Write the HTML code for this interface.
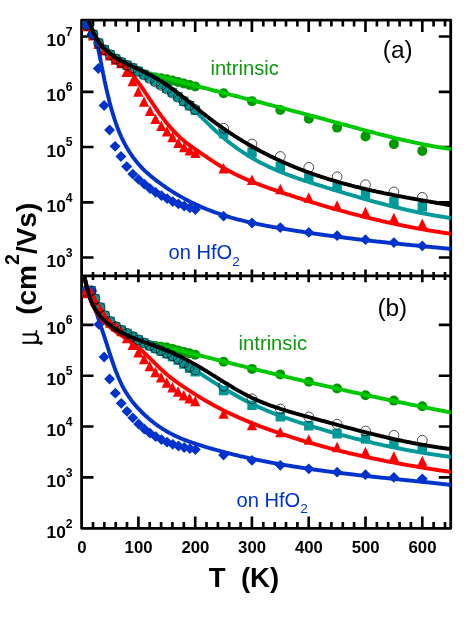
<!DOCTYPE html>
<html><head><meta charset="utf-8"><title>mobility</title>
<style>html,body{margin:0;padding:0;background:#fff;}body{width:476px;height:623px;position:relative;overflow:hidden;font-family:"Liberation Sans",sans-serif;}</style>
</head><body>
<svg width="476" height="623" viewBox="0 0 476 623" style="position:absolute;left:0;top:0;will-change:transform"><defs><clipPath id="ca"><rect x="82.39999999999999" y="20.7" width="368.40000000000003" height="255.25"/></clipPath><clipPath id="cb"><rect x="82.39999999999999" y="275.95" width="368.40000000000003" height="252.34999999999997"/></clipPath></defs><path d="M81.6,528.3 L81.6,20.2 L450.7,20.2 L450.7,528.3 Z M81.6,275.95 L450.7,275.95" fill="none" stroke="#000" stroke-width="2.8" stroke-linejoin="round"/><path d="M93.0,20.2 v6.3 M93.0,528.3 v-6.3 M93.0,271.9 v8.1 M104.3,20.2 v6.3 M104.3,528.3 v-6.3 M104.3,271.9 v8.1 M115.7,20.2 v6.3 M115.7,528.3 v-6.3 M115.7,271.9 v8.1 M127.0,20.2 v6.3 M127.0,528.3 v-6.3 M127.0,271.9 v8.1 M138.4,20.2 v11.7 M138.4,528.3 v-11.7 M138.4,269.55 v12.8 M149.7,20.2 v6.3 M149.7,528.3 v-6.3 M149.7,271.9 v8.1 M161.1,20.2 v6.3 M161.1,528.3 v-6.3 M161.1,271.9 v8.1 M172.4,20.2 v6.3 M172.4,528.3 v-6.3 M172.4,271.9 v8.1 M183.8,20.2 v6.3 M183.8,528.3 v-6.3 M183.8,271.9 v8.1 M195.2,20.2 v11.7 M195.2,528.3 v-11.7 M195.2,269.55 v12.8 M206.5,20.2 v6.3 M206.5,528.3 v-6.3 M206.5,271.9 v8.1 M217.9,20.2 v6.3 M217.9,528.3 v-6.3 M217.9,271.9 v8.1 M229.2,20.2 v6.3 M229.2,528.3 v-6.3 M229.2,271.9 v8.1 M240.6,20.2 v6.3 M240.6,528.3 v-6.3 M240.6,271.9 v8.1 M251.9,20.2 v11.7 M251.9,528.3 v-11.7 M251.9,269.55 v12.8 M263.3,20.2 v6.3 M263.3,528.3 v-6.3 M263.3,271.9 v8.1 M274.7,20.2 v6.3 M274.7,528.3 v-6.3 M274.7,271.9 v8.1 M286.0,20.2 v6.3 M286.0,528.3 v-6.3 M286.0,271.9 v8.1 M297.4,20.2 v6.3 M297.4,528.3 v-6.3 M297.4,271.9 v8.1 M308.7,20.2 v11.7 M308.7,528.3 v-11.7 M308.7,269.55 v12.8 M320.1,20.2 v6.3 M320.1,528.3 v-6.3 M320.1,271.9 v8.1 M331.4,20.2 v6.3 M331.4,528.3 v-6.3 M331.4,271.9 v8.1 M342.8,20.2 v6.3 M342.8,528.3 v-6.3 M342.8,271.9 v8.1 M354.1,20.2 v6.3 M354.1,528.3 v-6.3 M354.1,271.9 v8.1 M365.5,20.2 v11.7 M365.5,528.3 v-11.7 M365.5,269.55 v12.8 M376.9,20.2 v6.3 M376.9,528.3 v-6.3 M376.9,271.9 v8.1 M388.2,20.2 v6.3 M388.2,528.3 v-6.3 M388.2,271.9 v8.1 M399.6,20.2 v6.3 M399.6,528.3 v-6.3 M399.6,271.9 v8.1 M410.9,20.2 v6.3 M410.9,528.3 v-6.3 M410.9,271.9 v8.1 M422.3,20.2 v11.7 M422.3,528.3 v-11.7 M422.3,269.55 v12.8 M433.6,20.2 v6.3 M433.6,528.3 v-6.3 M433.6,271.9 v8.1 M445.0,20.2 v6.3 M445.0,528.3 v-6.3 M445.0,271.9 v8.1 M81.6,36.5 h11.9 M450.7,36.5 h-11.9 M81.6,91.8 h11.9 M450.7,91.8 h-11.9 M81.6,147.0 h11.9 M450.7,147.0 h-11.9 M81.6,202.3 h11.9 M450.7,202.3 h-11.9 M81.6,257.5 h11.9 M450.7,257.5 h-11.9 M81.6,324.8 h11.9 M450.7,324.8 h-11.9 M81.6,375.7 h11.9 M450.7,375.7 h-11.9 M81.6,426.5 h11.9 M450.7,426.5 h-11.9 M81.6,477.4 h11.9 M450.7,477.4 h-11.9" fill="none" stroke="#000" stroke-width="2.65"/><g clip-path="url(#ca)"><circle cx="155.4" cy="77.6" r="5" fill="#009a00"/><circle cx="161.1" cy="78.2" r="5" fill="#009a00"/><circle cx="166.8" cy="79.3" r="5" fill="#009a00"/><circle cx="172.4" cy="80.6" r="5" fill="#009a00"/><circle cx="178.1" cy="82.0" r="5" fill="#009a00"/><circle cx="183.8" cy="83.5" r="5" fill="#009a00"/><circle cx="189.5" cy="85.0" r="5" fill="#009a00"/><circle cx="195.2" cy="86.4" r="5" fill="#009a00"/><circle cx="223.6" cy="93.2" r="5" fill="#009a00"/><circle cx="252.0" cy="101.2" r="5" fill="#009a00"/><circle cx="280.3" cy="110.0" r="5" fill="#009a00"/><circle cx="308.8" cy="118.8" r="5" fill="#009a00"/><circle cx="337.1" cy="127.6" r="5" fill="#009a00"/><circle cx="365.5" cy="136.4" r="5" fill="#009a00"/><circle cx="393.9" cy="144.1" r="5" fill="#009a00"/><circle cx="422.3" cy="150.9" r="5" fill="#009a00"/><path d="M85.5,10.3 L85.7,11.2 L86.0,12.1 L86.2,12.9 L86.5,13.8 L86.7,14.7 L87.0,15.5 L87.2,16.3 L87.5,17.1 L87.7,17.9 L88.0,18.7 L88.2,19.4 L88.5,20.2 L88.7,20.9 L89.0,21.6 L89.2,22.4 L89.5,23.1 L89.7,23.7 L90.0,24.4 L90.2,25.1 L90.5,25.7 L90.7,26.4 L91.0,27.0 L91.2,27.6 L91.5,28.2 L91.7,28.8 L92.0,29.4 L92.2,29.9 L92.5,30.5 L92.7,31.1 L93.0,31.6 L93.2,32.1 L93.4,32.6 L93.7,33.2 L93.9,33.7 L94.2,34.2 L94.4,34.6 L94.7,35.1 L94.9,35.6 L95.2,36.0 L95.4,36.5 L95.7,36.9 L95.9,37.4 L96.2,37.8 L96.4,38.2 L96.7,38.6 L96.9,39.0 L97.2,39.4 L97.4,39.8 L97.7,40.2 L97.9,40.6 L98.2,40.9 L98.4,41.3 L98.7,41.6 L98.9,42.0 L99.2,42.3 L99.4,42.7 L99.7,43.0 L99.9,43.3 L100.2,43.7 L100.4,44.0 L100.7,44.3 L100.9,44.6 L101.2,44.9 L101.4,45.2 L101.6,45.5 L101.9,45.8 L102.1,46.0 L102.4,46.3 L102.6,46.6 L102.9,46.9 L103.1,47.1 L103.4,47.4 L103.6,47.6 L103.9,47.9 L104.1,48.2 L104.4,48.4 L104.6,48.7 L104.9,48.9 L105.1,49.1 L105.4,49.4 L105.6,49.6 L105.9,49.9 L106.1,50.1 L106.4,50.3 L106.6,50.5 L106.9,50.8 L107.1,51.0 L107.4,51.2 L107.6,51.4 L107.9,51.7 L108.1,51.9 L108.4,52.1 L108.6,52.3 L108.9,52.5 L109.1,52.7 L109.3,52.9 L109.6,53.1 L109.8,53.3 L110.1,53.5 L110.3,53.7 L110.6,53.9 L110.8,54.1 L111.1,54.3 L111.3,54.5 L111.6,54.7 L111.8,54.9 L112.1,55.1 L112.3,55.3 L112.6,55.5 L112.8,55.7 L113.1,55.8 L113.3,56.0 L113.6,56.2 L113.8,56.4 L114.1,56.5 L114.3,56.7 L114.6,56.9 L114.8,57.1 L115.1,57.2 L115.3,57.4 L115.6,57.6 L115.8,57.7 L116.1,57.9 L116.3,58.1 L116.6,58.2 L116.8,58.4 L117.1,58.5 L117.3,58.7 L117.5,58.8 L117.8,59.0 L118.0,59.2 L118.3,59.3 L118.5,59.5 L118.8,59.6 L119.0,59.8 L119.3,59.9 L119.5,60.1 L119.8,60.2 L120.0,60.4 L120.3,60.5 L120.5,60.6 L120.8,60.8 L121.0,60.9 L121.3,61.1 L121.5,61.2 L121.8,61.3 L122.0,61.5 L122.3,61.6 L122.5,61.8 L122.8,61.9 L123.0,62.0 L123.3,62.2 L123.5,62.3 L123.8,62.4 L124.0,62.6 L124.3,62.7 L124.5,62.8 L124.8,62.9 L125.0,63.1 L125.9,63.5 L126.8,64.0 L127.7,64.4 L128.6,64.9 L129.5,65.3 L130.4,65.7 L131.2,66.1 L132.1,66.5 L133.0,66.9 L133.9,67.3 L134.8,67.7 L135.7,68.1 L136.6,68.5 L137.5,68.8 L138.4,69.2 L139.3,69.5 L140.2,69.9 L141.1,70.2 L142.0,70.6 L142.8,70.9 L143.7,71.2 L144.6,71.6 L145.5,71.9 L146.4,72.2 L147.3,72.5 L148.2,72.8 L149.1,73.1 L150.0,73.4 L150.9,73.7 L151.8,74.0 L152.7,74.2 L153.6,74.5 L154.4,74.8 L155.3,75.1 L156.2,75.3 L157.1,75.6 L158.0,75.8 L158.9,76.1 L159.8,76.4 L160.7,76.6 L161.6,76.9 L162.5,77.1 L163.4,77.4 L164.3,77.6 L165.2,77.8 L166.0,78.1 L166.9,78.3 L167.8,78.6 L168.7,78.8 L169.6,79.0 L170.5,79.3 L171.4,79.5 L172.3,79.7 L173.2,80.0 L174.1,80.2 L175.0,80.4 L175.9,80.7 L176.7,80.9 L177.6,81.1 L178.5,81.3 L179.4,81.6 L180.3,81.8 L181.2,82.0 L182.1,82.3 L183.0,82.5 L183.9,82.7 L184.8,83.0 L185.7,83.2 L186.6,83.4 L187.5,83.6 L188.3,83.9 L189.2,84.1 L190.1,84.3 L191.0,84.6 L191.9,84.8 L192.8,85.0 L193.7,85.3 L194.6,85.5 L195.5,85.7 L196.4,85.9 L197.3,86.2 L198.2,86.4 L199.1,86.6 L199.9,86.9 L200.8,87.1 L201.7,87.3 L202.6,87.5 L203.5,87.8 L204.4,88.0 L205.3,88.2 L206.2,88.5 L207.1,88.7 L208.0,88.9 L208.9,89.1 L209.8,89.4 L210.7,89.6 L211.5,89.8 L212.4,90.1 L213.3,90.3 L214.2,90.5 L215.1,90.8 L216.0,91.0 L216.9,91.2 L217.8,91.4 L218.7,91.7 L219.6,91.9 L220.5,92.1 L221.4,92.4 L222.3,92.6 L223.1,92.8 L224.0,93.0 L224.9,93.3 L225.8,93.5 L226.7,93.7 L227.6,94.0 L228.5,94.2 L229.4,94.4 L230.3,94.6 L231.2,94.9 L232.1,95.1 L233.0,95.3 L233.9,95.6 L234.7,95.8 L235.6,96.0 L236.5,96.2 L237.4,96.5 L238.3,96.7 L239.2,96.9 L240.1,97.2 L241.0,97.4 L241.9,97.6 L242.8,97.8 L243.7,98.1 L244.6,98.3 L245.5,98.5 L246.3,98.8 L247.2,99.0 L248.1,99.2 L249.0,99.5 L249.9,99.7 L250.8,99.9 L251.7,100.1 L252.6,100.4 L253.5,100.6 L254.4,100.8 L255.3,101.1 L256.2,101.3 L257.1,101.5 L257.9,101.8 L258.8,102.0 L259.7,102.2 L260.6,102.4 L261.5,102.7 L262.4,102.9 L263.3,103.1 L264.2,103.4 L265.1,103.6 L266.0,103.8 L266.9,104.1 L267.8,104.3 L268.6,104.5 L269.5,104.8 L270.4,105.0 L271.3,105.2 L272.2,105.5 L273.1,105.7 L274.0,105.9 L274.9,106.1 L275.8,106.4 L276.7,106.6 L277.6,106.8 L278.5,107.1 L279.4,107.3 L280.2,107.5 L281.1,107.8 L282.0,108.0 L282.9,108.2 L283.8,108.5 L284.7,108.7 L285.6,108.9 L286.5,109.2 L287.4,109.4 L288.3,109.6 L289.2,109.9 L290.1,110.1 L291.0,110.4 L291.8,110.6 L292.7,110.8 L293.6,111.1 L294.5,111.3 L295.4,111.5 L296.3,111.8 L297.2,112.0 L298.1,112.2 L299.0,112.5 L299.9,112.7 L300.8,112.9 L301.7,113.2 L302.6,113.4 L303.4,113.7 L304.3,113.9 L305.2,114.1 L306.1,114.4 L307.0,114.6 L307.9,114.8 L308.8,115.1 L309.7,115.3 L310.6,115.6 L311.5,115.8 L312.4,116.0 L313.3,116.3 L314.2,116.5 L315.0,116.7 L315.9,117.0 L316.8,117.2 L317.7,117.5 L318.6,117.7 L319.5,117.9 L320.4,118.2 L321.3,118.4 L322.2,118.7 L323.1,118.9 L324.0,119.1 L324.9,119.4 L325.8,119.6 L326.6,119.9 L327.5,120.1 L328.4,120.4 L329.3,120.6 L330.2,120.8 L331.1,121.1 L332.0,121.3 L332.9,121.6 L333.8,121.8 L334.7,122.1 L335.6,122.3 L336.5,122.5 L337.4,122.8 L338.2,123.0 L339.1,123.3 L340.0,123.5 L340.9,123.8 L341.8,124.0 L342.7,124.3 L343.6,124.5 L344.5,124.7 L345.4,125.0 L346.3,125.2 L347.2,125.5 L348.1,125.7 L348.9,126.0 L349.8,126.2 L350.7,126.5 L351.6,126.7 L352.5,126.9 L353.4,127.2 L354.3,127.4 L355.2,127.7 L356.1,127.9 L357.0,128.2 L357.9,128.4 L358.8,128.6 L359.7,128.9 L360.5,129.1 L361.4,129.4 L362.3,129.6 L363.2,129.8 L364.1,130.1 L365.0,130.3 L365.9,130.6 L366.8,130.8 L367.7,131.0 L368.6,131.3 L369.5,131.5 L370.4,131.8 L371.3,132.0 L372.1,132.2 L373.0,132.5 L373.9,132.7 L374.8,132.9 L375.7,133.2 L376.6,133.4 L377.5,133.6 L378.4,133.9 L379.3,134.1 L380.2,134.3 L381.1,134.6 L382.0,134.8 L382.9,135.0 L383.7,135.2 L384.6,135.5 L385.5,135.7 L386.4,135.9 L387.3,136.1 L388.2,136.4 L389.1,136.6 L390.0,136.8 L390.9,137.0 L391.8,137.2 L392.7,137.5 L393.6,137.7 L394.5,137.9 L395.3,138.1 L396.2,138.3 L397.1,138.6 L398.0,138.8 L398.9,139.0 L399.8,139.2 L400.7,139.4 L401.6,139.6 L402.5,139.8 L403.4,140.0 L404.3,140.2 L405.2,140.4 L406.1,140.6 L406.9,140.8 L407.8,141.0 L408.7,141.2 L409.6,141.4 L410.5,141.6 L411.4,141.8 L412.3,142.0 L413.2,142.2 L414.1,142.4 L415.0,142.6 L415.9,142.8 L416.8,143.0 L417.7,143.2 L418.5,143.4 L419.4,143.6 L420.3,143.7 L421.2,143.9 L422.1,144.1 L423.0,144.3 L423.9,144.5 L424.8,144.6 L425.7,144.8 L426.6,145.0 L427.5,145.2 L428.4,145.3 L429.3,145.5 L430.1,145.7 L431.0,145.8 L431.9,146.0 L432.8,146.2 L433.7,146.3 L434.6,146.5 L435.5,146.6 L436.4,146.8 L437.3,147.0 L438.2,147.1 L439.1,147.3 L440.0,147.4 L440.8,147.6 L441.7,147.7 L442.6,147.9 L443.5,148.0 L444.4,148.1 L445.3,148.3 L446.2,148.4 L447.1,148.5 L448.0,148.7 L448.9,148.8 L449.8,148.9 L450.7,149.1 L451.6,149.2 L452.4,149.3 L453.3,149.4 L454.2,149.6 L455.1,149.7 L456.0,149.8 L456.9,149.9 L457.8,150.0 L458.7,150.1 L459.6,150.2 L460.5,150.3 L461.4,150.4 L462.3,150.5 L463.2,150.6 L464.0,150.7 L464.9,150.8 L465.8,150.9 L466.7,151.0 L467.6,151.1 L468.5,151.2 L469.4,151.3 L470.3,151.4 L471.2,151.4 L472.1,151.5 L473.0,151.6 L473.9,151.7 L474.8,151.7 L475.6,151.8 L476.5,151.9 L477.4,151.9 L478.3,152.0 L479.2,152.0 L480.1,152.1 L481.0,152.1" fill="none" stroke="#00c800" stroke-width="3.9" stroke-linejoin="round"/><rect x="82.1" y="20.6" width="9.4" height="9.4" fill="#009999"/><rect x="88.3" y="29.8" width="9.4" height="9.4" fill="#009999"/><rect x="93.9" y="38.4" width="9.4" height="9.4" fill="#009999"/><rect x="99.6" y="45.0" width="9.4" height="9.4" fill="#009999"/><rect x="105.3" y="50.0" width="9.4" height="9.4" fill="#009999"/><rect x="111.0" y="54.2" width="9.4" height="9.4" fill="#009999"/><rect x="116.6" y="57.7" width="9.4" height="9.4" fill="#009999"/><rect x="122.3" y="60.6" width="9.4" height="9.4" fill="#009999"/><rect x="128.0" y="63.4" width="9.4" height="9.4" fill="#009999"/><rect x="133.7" y="66.6" width="9.4" height="9.4" fill="#009999"/><rect x="139.4" y="69.8" width="9.4" height="9.4" fill="#009999"/><rect x="145.0" y="73.1" width="9.4" height="9.4" fill="#009999"/><rect x="150.7" y="76.5" width="9.4" height="9.4" fill="#009999"/><rect x="156.4" y="79.9" width="9.4" height="9.4" fill="#009999"/><rect x="162.1" y="83.6" width="9.4" height="9.4" fill="#009999"/><rect x="167.7" y="87.7" width="9.4" height="9.4" fill="#009999"/><rect x="173.4" y="92.1" width="9.4" height="9.4" fill="#009999"/><rect x="179.1" y="96.6" width="9.4" height="9.4" fill="#009999"/><rect x="184.8" y="101.0" width="9.4" height="9.4" fill="#009999"/><rect x="190.5" y="105.5" width="9.4" height="9.4" fill="#009999"/><rect x="218.9" y="129.0" width="9.4" height="9.4" fill="#009999"/><rect x="247.3" y="148.1" width="9.4" height="9.4" fill="#009999"/><rect x="275.6" y="161.8" width="9.4" height="9.4" fill="#009999"/><rect x="304.1" y="172.5" width="9.4" height="9.4" fill="#009999"/><rect x="332.4" y="182.6" width="9.4" height="9.4" fill="#009999"/><rect x="360.8" y="189.7" width="9.4" height="9.4" fill="#009999"/><rect x="389.2" y="197.1" width="9.4" height="9.4" fill="#009999"/><rect x="417.6" y="202.1" width="9.4" height="9.4" fill="#009999"/><path d="M85.5,10.4 L85.7,11.3 L86.0,12.1 L86.2,12.9 L86.5,13.8 L86.7,14.6 L87.0,15.4 L87.2,16.1 L87.5,16.9 L87.7,17.7 L88.0,18.4 L88.2,19.1 L88.5,19.8 L88.7,20.5 L89.0,21.2 L89.2,21.9 L89.5,22.6 L89.7,23.3 L90.0,23.9 L90.2,24.6 L90.5,25.2 L90.7,25.8 L91.0,26.4 L91.2,27.0 L91.5,27.6 L91.7,28.2 L92.0,28.7 L92.2,29.3 L92.5,29.8 L92.7,30.4 L93.0,30.9 L93.2,31.4 L93.4,31.9 L93.7,32.5 L93.9,32.9 L94.2,33.4 L94.4,33.9 L94.7,34.4 L94.9,34.8 L95.2,35.3 L95.4,35.7 L95.7,36.2 L95.9,36.6 L96.2,37.0 L96.4,37.4 L96.7,37.8 L96.9,38.2 L97.2,38.6 L97.4,39.0 L97.7,39.4 L97.9,39.8 L98.2,40.2 L98.4,40.5 L98.7,40.9 L98.9,41.2 L99.2,41.6 L99.4,41.9 L99.7,42.2 L99.9,42.6 L100.2,42.9 L100.4,43.2 L100.7,43.5 L100.9,43.8 L101.2,44.1 L101.4,44.4 L101.6,44.7 L101.9,45.0 L102.1,45.3 L102.4,45.6 L102.6,45.8 L102.9,46.1 L103.1,46.4 L103.4,46.6 L103.6,46.9 L103.9,47.2 L104.1,47.4 L104.4,47.7 L104.6,47.9 L104.9,48.2 L105.1,48.4 L105.4,48.6 L105.6,48.9 L105.9,49.1 L106.1,49.4 L106.4,49.6 L106.6,49.8 L106.9,50.1 L107.1,50.3 L107.4,50.5 L107.6,50.7 L107.9,50.9 L108.1,51.2 L108.4,51.4 L108.6,51.6 L108.9,51.8 L109.1,52.0 L109.3,52.2 L109.6,52.4 L109.8,52.6 L110.1,52.8 L110.3,53.0 L110.6,53.2 L110.8,53.4 L111.1,53.6 L111.3,53.8 L111.6,54.0 L111.8,54.2 L112.1,54.4 L112.3,54.6 L112.6,54.7 L112.8,54.9 L113.1,55.1 L113.3,55.3 L113.6,55.5 L113.8,55.6 L114.1,55.8 L114.3,56.0 L114.6,56.2 L114.8,56.3 L115.1,56.5 L115.3,56.7 L115.6,56.8 L115.8,57.0 L116.1,57.2 L116.3,57.3 L116.6,57.5 L116.8,57.6 L117.1,57.8 L117.3,58.0 L117.5,58.1 L117.8,58.3 L118.0,58.4 L118.3,58.6 L118.5,58.7 L118.8,58.9 L119.0,59.0 L119.3,59.2 L119.5,59.3 L119.8,59.5 L120.0,59.6 L120.3,59.7 L120.5,59.9 L120.8,60.0 L121.0,60.2 L121.3,60.3 L121.5,60.5 L121.8,60.6 L122.0,60.7 L122.3,60.9 L122.5,61.0 L122.8,61.1 L123.0,61.3 L123.3,61.4 L123.5,61.5 L123.8,61.7 L124.0,61.8 L124.3,61.9 L124.5,62.1 L124.8,62.2 L125.0,62.3 L125.9,62.8 L126.8,63.2 L127.7,63.7 L128.6,64.1 L129.5,64.6 L130.4,65.0 L131.2,65.5 L132.1,65.9 L133.0,66.4 L133.9,66.8 L134.8,67.3 L135.7,67.7 L136.6,68.2 L137.5,68.6 L138.4,69.1 L139.3,69.6 L140.2,70.0 L141.1,70.5 L142.0,71.0 L142.8,71.4 L143.7,71.9 L144.6,72.4 L145.5,72.9 L146.4,73.3 L147.3,73.8 L148.2,74.3 L149.1,74.8 L150.0,75.3 L150.9,75.8 L151.8,76.4 L152.7,76.9 L153.6,77.4 L154.4,77.9 L155.3,78.5 L156.2,79.0 L157.1,79.6 L158.0,80.1 L158.9,80.7 L159.8,81.2 L160.7,81.8 L161.6,82.4 L162.5,83.0 L163.4,83.6 L164.3,84.2 L165.2,84.8 L166.0,85.5 L166.9,86.1 L167.8,86.7 L168.7,87.4 L169.6,88.1 L170.5,88.7 L171.4,89.4 L172.3,90.1 L173.2,90.8 L174.1,91.5 L175.0,92.2 L175.9,93.0 L176.7,93.7 L177.6,94.5 L178.5,95.3 L179.4,96.0 L180.3,96.8 L181.2,97.6 L182.1,98.4 L183.0,99.2 L183.9,100.0 L184.8,100.9 L185.7,101.7 L186.6,102.5 L187.5,103.4 L188.3,104.2 L189.2,105.1 L190.1,106.0 L191.0,106.8 L191.9,107.7 L192.8,108.6 L193.7,109.4 L194.6,110.3 L195.5,111.2 L196.4,112.1 L197.3,113.0 L198.2,113.9 L199.1,114.7 L199.9,115.6 L200.8,116.5 L201.7,117.4 L202.6,118.3 L203.5,119.2 L204.4,120.1 L205.3,120.9 L206.2,121.8 L207.1,122.7 L208.0,123.6 L208.9,124.4 L209.8,125.3 L210.7,126.2 L211.5,127.0 L212.4,127.9 L213.3,128.7 L214.2,129.5 L215.1,130.4 L216.0,131.2 L216.9,132.0 L217.8,132.8 L218.7,133.6 L219.6,134.4 L220.5,135.2 L221.4,136.0 L222.3,136.7 L223.1,137.5 L224.0,138.3 L224.9,139.0 L225.8,139.7 L226.7,140.5 L227.6,141.2 L228.5,141.9 L229.4,142.6 L230.3,143.3 L231.2,144.0 L232.1,144.6 L233.0,145.3 L233.9,146.0 L234.7,146.6 L235.6,147.3 L236.5,147.9 L237.4,148.6 L238.3,149.2 L239.2,149.8 L240.1,150.4 L241.0,151.0 L241.9,151.6 L242.8,152.2 L243.7,152.8 L244.6,153.4 L245.5,153.9 L246.3,154.5 L247.2,155.0 L248.1,155.6 L249.0,156.1 L249.9,156.7 L250.8,157.2 L251.7,157.7 L252.6,158.3 L253.5,158.8 L254.4,159.3 L255.3,159.8 L256.2,160.3 L257.1,160.8 L257.9,161.3 L258.8,161.7 L259.7,162.2 L260.6,162.7 L261.5,163.1 L262.4,163.6 L263.3,164.0 L264.2,164.5 L265.1,164.9 L266.0,165.4 L266.9,165.8 L267.8,166.2 L268.6,166.7 L269.5,167.1 L270.4,167.5 L271.3,167.9 L272.2,168.3 L273.1,168.7 L274.0,169.1 L274.9,169.5 L275.8,169.9 L276.7,170.3 L277.6,170.6 L278.5,171.0 L279.4,171.4 L280.2,171.8 L281.1,172.1 L282.0,172.5 L282.9,172.8 L283.8,173.2 L284.7,173.5 L285.6,173.9 L286.5,174.2 L287.4,174.6 L288.3,174.9 L289.2,175.2 L290.1,175.6 L291.0,175.9 L291.8,176.2 L292.7,176.6 L293.6,176.9 L294.5,177.2 L295.4,177.5 L296.3,177.8 L297.2,178.1 L298.1,178.5 L299.0,178.8 L299.9,179.1 L300.8,179.4 L301.7,179.7 L302.6,180.0 L303.4,180.3 L304.3,180.6 L305.2,180.8 L306.1,181.1 L307.0,181.4 L307.9,181.7 L308.8,182.0 L309.7,182.3 L310.6,182.6 L311.5,182.9 L312.4,183.1 L313.3,183.4 L314.2,183.7 L315.0,184.0 L315.9,184.3 L316.8,184.5 L317.7,184.8 L318.6,185.1 L319.5,185.4 L320.4,185.7 L321.3,185.9 L322.2,186.2 L323.1,186.5 L324.0,186.8 L324.9,187.0 L325.8,187.3 L326.6,187.6 L327.5,187.9 L328.4,188.1 L329.3,188.4 L330.2,188.7 L331.1,189.0 L332.0,189.2 L332.9,189.5 L333.8,189.8 L334.7,190.1 L335.6,190.3 L336.5,190.6 L337.4,190.9 L338.2,191.1 L339.1,191.4 L340.0,191.7 L340.9,192.0 L341.8,192.2 L342.7,192.5 L343.6,192.8 L344.5,193.0 L345.4,193.3 L346.3,193.6 L347.2,193.8 L348.1,194.1 L348.9,194.4 L349.8,194.6 L350.7,194.9 L351.6,195.2 L352.5,195.4 L353.4,195.7 L354.3,196.0 L355.2,196.2 L356.1,196.5 L357.0,196.7 L357.9,197.0 L358.8,197.3 L359.7,197.5 L360.5,197.8 L361.4,198.0 L362.3,198.3 L363.2,198.5 L364.1,198.8 L365.0,199.1 L365.9,199.3 L366.8,199.6 L367.7,199.8 L368.6,200.1 L369.5,200.3 L370.4,200.6 L371.3,200.8 L372.1,201.1 L373.0,201.3 L373.9,201.6 L374.8,201.8 L375.7,202.0 L376.6,202.3 L377.5,202.5 L378.4,202.8 L379.3,203.0 L380.2,203.3 L381.1,203.5 L382.0,203.7 L382.9,204.0 L383.7,204.2 L384.6,204.4 L385.5,204.7 L386.4,204.9 L387.3,205.1 L388.2,205.4 L389.1,205.6 L390.0,205.8 L390.9,206.0 L391.8,206.3 L392.7,206.5 L393.6,206.7 L394.5,206.9 L395.3,207.2 L396.2,207.4 L397.1,207.6 L398.0,207.8 L398.9,208.0 L399.8,208.2 L400.7,208.5 L401.6,208.7 L402.5,208.9 L403.4,209.1 L404.3,209.3 L405.2,209.5 L406.1,209.7 L406.9,209.9 L407.8,210.1 L408.7,210.3 L409.6,210.5 L410.5,210.7 L411.4,210.9 L412.3,211.1 L413.2,211.3 L414.1,211.5 L415.0,211.7 L415.9,211.9 L416.8,212.1 L417.7,212.2 L418.5,212.4 L419.4,212.6 L420.3,212.8 L421.2,213.0 L422.1,213.2 L423.0,213.3 L423.9,213.5 L424.8,213.7 L425.7,213.9 L426.6,214.0 L427.5,214.2 L428.4,214.4 L429.3,214.5 L430.1,214.7 L431.0,214.9 L431.9,215.0 L432.8,215.2 L433.7,215.3 L434.6,215.5 L435.5,215.6 L436.4,215.8 L437.3,215.9 L438.2,216.1 L439.1,216.2 L440.0,216.4 L440.8,216.5 L441.7,216.7 L442.6,216.8 L443.5,216.9 L444.4,217.1 L445.3,217.2 L446.2,217.3 L447.1,217.5 L448.0,217.6 L448.9,217.7 L449.8,217.8 L450.7,217.9 L451.6,218.1 L452.4,218.2 L453.3,218.3 L454.2,218.4 L455.1,218.5 L456.0,218.6 L456.9,218.7 L457.8,218.8 L458.7,218.9 L459.6,219.0 L460.5,219.1 L461.4,219.2 L462.3,219.3 L463.2,219.4 L464.0,219.5 L464.9,219.6 L465.8,219.7 L466.7,219.8 L467.6,219.8 L468.5,219.9 L469.4,220.0 L470.3,220.1 L471.2,220.1 L472.1,220.2 L473.0,220.3 L473.9,220.3 L474.8,220.4 L475.6,220.5 L476.5,220.5 L477.4,220.6 L478.3,220.6 L479.2,220.7 L480.1,220.7 L481.0,220.8" fill="none" stroke="#009999" stroke-width="3.9" stroke-linejoin="round"/><path d="M81.7,31.2 L91.9,31.2 L86.8,20.7Z" fill="#ff0000"/><path d="M87.9,40.4 L98.1,40.4 L93.0,29.9Z" fill="#ff0000"/><path d="M93.5,49.0 L103.7,49.0 L98.6,38.5Z" fill="#ff0000"/><path d="M99.2,55.6 L109.4,55.6 L104.3,45.1Z" fill="#ff0000"/><path d="M104.9,60.6 L115.1,60.6 L110.0,50.1Z" fill="#ff0000"/><path d="M110.6,64.8 L120.8,64.8 L115.7,54.3Z" fill="#ff0000"/><path d="M116.2,68.3 L126.4,68.3 L121.3,57.8Z" fill="#ff0000"/><path d="M121.5,77.1 L131.7,77.1 L126.6,66.6Z" fill="#ff0000"/><path d="M127.6,86.3 L137.8,86.3 L132.7,75.8Z" fill="#ff0000"/><path d="M133.2,96.7 L143.4,96.7 L138.3,86.2Z" fill="#ff0000"/><path d="M138.9,106.7 L149.1,106.7 L144.0,96.2Z" fill="#ff0000"/><path d="M144.9,115.9 L155.1,115.9 L150.0,105.4Z" fill="#ff0000"/><path d="M150.4,124.1 L160.6,124.1 L155.5,113.6Z" fill="#ff0000"/><path d="M156.2,130.9 L166.4,130.9 L161.3,120.4Z" fill="#ff0000"/><path d="M161.9,136.6 L172.1,136.6 L167.0,126.1Z" fill="#ff0000"/><path d="M167.4,142.2 L177.6,142.2 L172.5,131.7Z" fill="#ff0000"/><path d="M173.3,147.9 L183.5,147.9 L178.4,137.4Z" fill="#ff0000"/><path d="M179.0,152.3 L189.2,152.3 L184.1,141.8Z" fill="#ff0000"/><path d="M184.7,155.5 L194.9,155.5 L189.8,145.0Z" fill="#ff0000"/><path d="M190.4,158.0 L200.6,158.0 L195.5,147.5Z" fill="#ff0000"/><path d="M218.5,173.5 L228.7,173.5 L223.6,163.0Z" fill="#ff0000"/><path d="M246.9,185.0 L257.1,185.0 L252.0,174.5Z" fill="#ff0000"/><path d="M275.2,194.2 L285.4,194.2 L280.3,183.7Z" fill="#ff0000"/><path d="M303.7,202.7 L313.9,202.7 L308.8,192.2Z" fill="#ff0000"/><path d="M332.0,210.7 L342.2,210.7 L337.1,200.2Z" fill="#ff0000"/><path d="M360.4,217.3 L370.6,217.3 L365.5,206.8Z" fill="#ff0000"/><path d="M388.8,223.2 L399.0,223.2 L393.9,212.7Z" fill="#ff0000"/><path d="M417.2,229.1 L427.4,229.1 L422.3,218.6Z" fill="#ff0000"/><path d="M85.5,10.5 L85.7,11.4 L86.0,12.2 L86.2,13.1 L86.5,13.9 L86.7,14.7 L87.0,15.5 L87.2,16.3 L87.5,17.0 L87.7,17.8 L88.0,18.5 L88.2,19.3 L88.5,20.0 L88.7,20.7 L89.0,21.4 L89.2,22.1 L89.5,22.8 L89.7,23.5 L90.0,24.1 L90.2,24.8 L90.5,25.4 L90.7,26.0 L91.0,26.7 L91.2,27.3 L91.5,27.9 L91.7,28.5 L92.0,29.0 L92.2,29.6 L92.5,30.2 L92.7,30.7 L93.0,31.3 L93.2,31.8 L93.4,32.3 L93.7,32.8 L93.9,33.4 L94.2,33.9 L94.4,34.4 L94.7,34.8 L94.9,35.3 L95.2,35.8 L95.4,36.2 L95.7,36.7 L95.9,37.1 L96.2,37.6 L96.4,38.0 L96.7,38.4 L96.9,38.9 L97.2,39.3 L97.4,39.7 L97.7,40.1 L97.9,40.5 L98.2,40.9 L98.4,41.2 L98.7,41.6 L98.9,42.0 L99.2,42.3 L99.4,42.7 L99.7,43.1 L99.9,43.4 L100.2,43.7 L100.4,44.1 L100.7,44.4 L100.9,44.7 L101.2,45.1 L101.4,45.4 L101.6,45.7 L101.9,46.0 L102.1,46.3 L102.4,46.6 L102.6,46.9 L102.9,47.2 L103.1,47.5 L103.4,47.7 L103.6,48.0 L103.9,48.3 L104.1,48.5 L104.4,48.8 L104.6,49.1 L104.9,49.3 L105.1,49.6 L105.4,49.8 L105.6,50.1 L105.9,50.3 L106.1,50.6 L106.4,50.8 L106.6,51.0 L106.9,51.3 L107.1,51.5 L107.4,51.7 L107.6,52.0 L107.9,52.2 L108.1,52.4 L108.4,52.6 L108.6,52.9 L108.9,53.1 L109.1,53.3 L109.3,53.5 L109.6,53.7 L109.8,53.9 L110.1,54.1 L110.3,54.3 L110.6,54.5 L110.8,54.7 L111.1,55.0 L111.3,55.2 L111.6,55.4 L111.8,55.6 L112.1,55.8 L112.3,56.0 L112.6,56.2 L112.8,56.4 L113.1,56.6 L113.3,56.8 L113.6,57.0 L113.8,57.2 L114.1,57.4 L114.3,57.6 L114.6,57.8 L114.8,58.0 L115.1,58.1 L115.3,58.3 L115.6,58.5 L115.8,58.7 L116.1,58.9 L116.3,59.1 L116.6,59.3 L116.8,59.5 L117.1,59.7 L117.3,59.9 L117.5,60.1 L117.8,60.3 L118.0,60.5 L118.3,60.8 L118.5,61.0 L118.8,61.2 L119.0,61.4 L119.3,61.6 L119.5,61.8 L119.8,62.0 L120.0,62.2 L120.3,62.4 L120.5,62.6 L120.8,62.8 L121.0,63.0 L121.3,63.3 L121.5,63.5 L121.8,63.7 L122.0,63.9 L122.3,64.1 L122.5,64.4 L122.8,64.6 L123.0,64.8 L123.3,65.0 L123.5,65.3 L123.8,65.5 L124.0,65.7 L124.3,66.0 L124.5,66.2 L124.8,66.4 L125.0,66.7 L125.9,67.6 L126.8,68.5 L127.7,69.4 L128.6,70.4 L129.5,71.4 L130.4,72.4 L131.2,73.4 L132.1,74.5 L133.0,75.5 L133.9,76.6 L134.8,77.8 L135.7,78.9 L136.6,80.1 L137.5,81.3 L138.4,82.5 L139.3,83.8 L140.2,85.0 L141.1,86.3 L142.0,87.6 L142.8,88.9 L143.7,90.2 L144.6,91.5 L145.5,92.8 L146.4,94.2 L147.3,95.5 L148.2,96.8 L149.1,98.2 L150.0,99.5 L150.9,100.9 L151.8,102.2 L152.7,103.6 L153.6,104.9 L154.4,106.2 L155.3,107.5 L156.2,108.8 L157.1,110.1 L158.0,111.4 L158.9,112.7 L159.8,113.9 L160.7,115.2 L161.6,116.4 L162.5,117.6 L163.4,118.7 L164.3,119.9 L165.2,121.0 L166.0,122.2 L166.9,123.3 L167.8,124.3 L168.7,125.4 L169.6,126.4 L170.5,127.5 L171.4,128.5 L172.3,129.5 L173.2,130.4 L174.1,131.4 L175.0,132.3 L175.9,133.3 L176.7,134.2 L177.6,135.0 L178.5,135.9 L179.4,136.7 L180.3,137.6 L181.2,138.4 L182.1,139.2 L183.0,139.9 L183.9,140.7 L184.8,141.4 L185.7,142.2 L186.6,142.9 L187.5,143.6 L188.3,144.2 L189.2,144.9 L190.1,145.6 L191.0,146.2 L191.9,146.9 L192.8,147.5 L193.7,148.2 L194.6,148.8 L195.5,149.4 L196.4,150.0 L197.3,150.6 L198.2,151.2 L199.1,151.9 L199.9,152.5 L200.8,153.1 L201.7,153.7 L202.6,154.3 L203.5,154.9 L204.4,155.5 L205.3,156.1 L206.2,156.7 L207.1,157.3 L208.0,158.0 L208.9,158.6 L209.8,159.2 L210.7,159.8 L211.5,160.4 L212.4,160.9 L213.3,161.5 L214.2,162.1 L215.1,162.7 L216.0,163.3 L216.9,163.8 L217.8,164.4 L218.7,165.0 L219.6,165.5 L220.5,166.0 L221.4,166.6 L222.3,167.1 L223.1,167.6 L224.0,168.2 L224.9,168.7 L225.8,169.2 L226.7,169.7 L227.6,170.2 L228.5,170.7 L229.4,171.1 L230.3,171.6 L231.2,172.1 L232.1,172.5 L233.0,173.0 L233.9,173.5 L234.7,173.9 L235.6,174.4 L236.5,174.8 L237.4,175.2 L238.3,175.7 L239.2,176.1 L240.1,176.5 L241.0,176.9 L241.9,177.3 L242.8,177.7 L243.7,178.1 L244.6,178.5 L245.5,178.9 L246.3,179.3 L247.2,179.7 L248.1,180.1 L249.0,180.4 L249.9,180.8 L250.8,181.2 L251.7,181.6 L252.6,181.9 L253.5,182.3 L254.4,182.6 L255.3,183.0 L256.2,183.3 L257.1,183.7 L257.9,184.0 L258.8,184.4 L259.7,184.7 L260.6,185.0 L261.5,185.4 L262.4,185.7 L263.3,186.0 L264.2,186.4 L265.1,186.7 L266.0,187.0 L266.9,187.3 L267.8,187.7 L268.6,188.0 L269.5,188.3 L270.4,188.6 L271.3,188.9 L272.2,189.2 L273.1,189.5 L274.0,189.8 L274.9,190.1 L275.8,190.5 L276.7,190.8 L277.6,191.1 L278.5,191.4 L279.4,191.7 L280.2,192.0 L281.1,192.3 L282.0,192.6 L282.9,192.9 L283.8,193.2 L284.7,193.5 L285.6,193.8 L286.5,194.1 L287.4,194.4 L288.3,194.7 L289.2,194.9 L290.1,195.2 L291.0,195.5 L291.8,195.8 L292.7,196.1 L293.6,196.4 L294.5,196.7 L295.4,197.0 L296.3,197.3 L297.2,197.6 L298.1,197.8 L299.0,198.1 L299.9,198.4 L300.8,198.7 L301.7,199.0 L302.6,199.3 L303.4,199.6 L304.3,199.8 L305.2,200.1 L306.1,200.4 L307.0,200.7 L307.9,201.0 L308.8,201.2 L309.7,201.5 L310.6,201.8 L311.5,202.1 L312.4,202.3 L313.3,202.6 L314.2,202.9 L315.0,203.1 L315.9,203.4 L316.8,203.7 L317.7,204.0 L318.6,204.2 L319.5,204.5 L320.4,204.8 L321.3,205.0 L322.2,205.3 L323.1,205.6 L324.0,205.8 L324.9,206.1 L325.8,206.3 L326.6,206.6 L327.5,206.9 L328.4,207.1 L329.3,207.4 L330.2,207.6 L331.1,207.9 L332.0,208.2 L332.9,208.4 L333.8,208.7 L334.7,208.9 L335.6,209.2 L336.5,209.4 L337.4,209.7 L338.2,209.9 L339.1,210.2 L340.0,210.4 L340.9,210.7 L341.8,210.9 L342.7,211.2 L343.6,211.4 L344.5,211.6 L345.4,211.9 L346.3,212.1 L347.2,212.4 L348.1,212.6 L348.9,212.9 L349.8,213.1 L350.7,213.3 L351.6,213.6 L352.5,213.8 L353.4,214.0 L354.3,214.3 L355.2,214.5 L356.1,214.7 L357.0,215.0 L357.9,215.2 L358.8,215.4 L359.7,215.7 L360.5,215.9 L361.4,216.1 L362.3,216.3 L363.2,216.6 L364.1,216.8 L365.0,217.0 L365.9,217.2 L366.8,217.4 L367.7,217.7 L368.6,217.9 L369.5,218.1 L370.4,218.3 L371.3,218.5 L372.1,218.8 L373.0,219.0 L373.9,219.2 L374.8,219.4 L375.7,219.6 L376.6,219.8 L377.5,220.0 L378.4,220.2 L379.3,220.4 L380.2,220.6 L381.1,220.9 L382.0,221.1 L382.9,221.3 L383.7,221.5 L384.6,221.7 L385.5,221.9 L386.4,222.1 L387.3,222.3 L388.2,222.5 L389.1,222.7 L390.0,222.9 L390.9,223.1 L391.8,223.2 L392.7,223.4 L393.6,223.6 L394.5,223.8 L395.3,224.0 L396.2,224.2 L397.1,224.4 L398.0,224.6 L398.9,224.8 L399.8,224.9 L400.7,225.1 L401.6,225.3 L402.5,225.5 L403.4,225.7 L404.3,225.9 L405.2,226.0 L406.1,226.2 L406.9,226.4 L407.8,226.6 L408.7,226.7 L409.6,226.9 L410.5,227.1 L411.4,227.3 L412.3,227.4 L413.2,227.6 L414.1,227.8 L415.0,227.9 L415.9,228.1 L416.8,228.3 L417.7,228.4 L418.5,228.6 L419.4,228.7 L420.3,228.9 L421.2,229.1 L422.1,229.2 L423.0,229.4 L423.9,229.5 L424.8,229.7 L425.7,229.9 L426.6,230.0 L427.5,230.2 L428.4,230.3 L429.3,230.5 L430.1,230.6 L431.0,230.8 L431.9,230.9 L432.8,231.0 L433.7,231.2 L434.6,231.3 L435.5,231.5 L436.4,231.6 L437.3,231.8 L438.2,231.9 L439.1,232.0 L440.0,232.2 L440.8,232.3 L441.7,232.4 L442.6,232.6 L443.5,232.7 L444.4,232.8 L445.3,233.0 L446.2,233.1 L447.1,233.2 L448.0,233.3 L448.9,233.5 L449.8,233.6 L450.7,233.7 L451.6,233.8 L452.4,234.0 L453.3,234.1 L454.2,234.2 L455.1,234.3 L456.0,234.4 L456.9,234.6 L457.8,234.7 L458.7,234.8 L459.6,234.9 L460.5,235.0 L461.4,235.1 L462.3,235.2 L463.2,235.3 L464.0,235.4 L464.9,235.5 L465.8,235.6 L466.7,235.7 L467.6,235.8 L468.5,235.9 L469.4,236.0 L470.3,236.1 L471.2,236.2 L472.1,236.3 L473.0,236.4 L473.9,236.5 L474.8,236.6 L475.6,236.7 L476.5,236.8 L477.4,236.9 L478.3,237.0 L479.2,237.0 L480.1,237.1 L481.0,237.2" fill="none" stroke="#ff0000" stroke-width="3.9" stroke-linejoin="round"/><path d="M81.1,25.3 L86.6,19.9 L92.0,25.3 L86.6,30.8Z" fill="#0033cc"/><path d="M86.5,34.2 L92.0,28.8 L97.5,34.2 L92.0,39.7Z" fill="#0033cc"/><path d="M92.8,68.4 L98.3,63.0 L103.8,68.4 L98.3,73.9Z" fill="#0033cc"/><path d="M98.6,105.4 L104.1,100.0 L109.5,105.4 L104.1,110.9Z" fill="#0033cc"/><path d="M104.1,130.0 L109.6,124.5 L115.0,130.0 L109.6,135.4Z" fill="#0033cc"/><path d="M109.6,146.3 L115.1,140.9 L120.5,146.3 L115.1,151.8Z" fill="#0033cc"/><path d="M115.5,156.5 L120.9,151.1 L126.4,156.5 L120.9,161.9Z" fill="#0033cc"/><path d="M121.2,166.6 L126.7,161.2 L132.2,166.6 L126.7,172.0Z" fill="#0033cc"/><path d="M127.4,174.1 L132.8,168.7 L138.2,174.1 L132.8,179.5Z" fill="#0033cc"/><path d="M133.2,179.4 L138.6,174.0 L144.0,179.4 L138.6,184.8Z" fill="#0033cc"/><path d="M138.9,184.1 L144.3,178.7 L149.8,184.1 L144.3,189.5Z" fill="#0033cc"/><path d="M144.6,188.6 L150.0,183.2 L155.4,188.6 L150.0,194.0Z" fill="#0033cc"/><path d="M150.2,192.3 L155.7,186.9 L161.1,192.3 L155.7,197.8Z" fill="#0033cc"/><path d="M156.0,195.6 L161.4,190.2 L166.8,195.6 L161.4,201.0Z" fill="#0033cc"/><path d="M161.7,198.6 L167.1,193.2 L172.5,198.6 L167.1,204.0Z" fill="#0033cc"/><path d="M167.4,201.6 L172.8,196.2 L178.2,201.6 L172.8,207.0Z" fill="#0033cc"/><path d="M173.1,203.9 L178.5,198.5 L183.9,203.9 L178.5,209.3Z" fill="#0033cc"/><path d="M178.8,206.0 L184.2,200.6 L189.6,206.0 L184.2,211.4Z" fill="#0033cc"/><path d="M184.5,207.7 L189.9,202.3 L195.3,207.7 L189.9,213.2Z" fill="#0033cc"/><path d="M190.0,209.6 L195.4,204.2 L200.8,209.6 L195.4,215.0Z" fill="#0033cc"/><path d="M218.2,216.2 L223.6,210.8 L229.0,216.2 L223.6,221.6Z" fill="#0033cc"/><path d="M246.6,223.0 L252.0,217.6 L257.4,223.0 L252.0,228.4Z" fill="#0033cc"/><path d="M274.9,227.6 L280.3,222.2 L285.8,227.6 L280.3,233.0Z" fill="#0033cc"/><path d="M303.4,232.4 L308.8,227.0 L314.2,232.4 L308.8,237.8Z" fill="#0033cc"/><path d="M331.7,235.7 L337.1,230.2 L342.6,235.7 L337.1,241.1Z" fill="#0033cc"/><path d="M360.1,239.7 L365.5,234.2 L370.9,239.7 L365.5,245.1Z" fill="#0033cc"/><path d="M388.4,242.6 L393.9,237.2 L399.3,242.6 L393.9,248.0Z" fill="#0033cc"/><path d="M416.9,245.9 L422.3,240.5 L427.8,245.9 L422.3,251.3Z" fill="#0033cc"/><path d="M85.5,10.0 L85.7,11.1 L86.0,12.2 L86.2,13.2 L86.5,14.1 L86.7,15.0 L87.0,15.9 L87.2,16.8 L87.5,17.6 L87.7,18.4 L88.0,19.1 L88.2,19.9 L88.5,20.6 L88.7,21.2 L89.0,21.9 L89.2,22.6 L89.5,23.2 L89.7,23.8 L90.0,24.4 L90.2,25.0 L90.5,25.6 L90.7,26.2 L91.0,26.7 L91.2,27.3 L91.5,27.9 L91.7,28.5 L92.0,29.0 L92.2,29.6 L92.5,30.2 L92.7,30.8 L93.0,31.5 L93.2,32.1 L93.4,32.7 L93.7,33.4 L93.9,34.1 L94.2,34.8 L94.4,35.5 L94.7,36.2 L94.9,37.0 L95.2,37.7 L95.4,38.5 L95.7,39.3 L95.9,40.2 L96.2,41.0 L96.4,41.9 L96.7,42.8 L96.9,43.8 L97.2,44.7 L97.4,45.7 L97.7,46.7 L97.9,47.8 L98.2,48.8 L98.4,49.9 L98.7,51.1 L98.9,52.2 L99.2,53.4 L99.4,54.6 L99.7,55.8 L99.9,57.0 L100.2,58.3 L100.4,59.5 L100.7,60.8 L100.9,62.1 L101.2,63.3 L101.4,64.6 L101.6,65.9 L101.9,67.2 L102.1,68.5 L102.4,69.8 L102.6,71.0 L102.9,72.3 L103.1,73.6 L103.4,74.8 L103.6,76.0 L103.9,77.3 L104.1,78.5 L104.4,79.7 L104.6,80.9 L104.9,82.0 L105.1,83.2 L105.4,84.4 L105.6,85.5 L105.9,86.6 L106.1,87.8 L106.4,88.9 L106.6,90.0 L106.9,91.0 L107.1,92.1 L107.4,93.2 L107.6,94.2 L107.9,95.3 L108.1,96.3 L108.4,97.3 L108.6,98.3 L108.9,99.3 L109.1,100.3 L109.3,101.3 L109.6,102.2 L109.8,103.2 L110.1,104.1 L110.3,105.1 L110.6,106.0 L110.8,106.9 L111.1,107.8 L111.3,108.7 L111.6,109.6 L111.8,110.4 L112.1,111.3 L112.3,112.1 L112.6,113.0 L112.8,113.8 L113.1,114.6 L113.3,115.4 L113.6,116.2 L113.8,117.0 L114.1,117.8 L114.3,118.6 L114.6,119.3 L114.8,120.1 L115.1,120.8 L115.3,121.6 L115.6,122.3 L115.8,123.0 L116.1,123.7 L116.3,124.4 L116.6,125.1 L116.8,125.8 L117.1,126.5 L117.3,127.1 L117.5,127.8 L117.8,128.4 L118.0,129.1 L118.3,129.7 L118.5,130.4 L118.8,131.0 L119.0,131.6 L119.3,132.2 L119.5,132.8 L119.8,133.4 L120.0,134.0 L120.3,134.6 L120.5,135.1 L120.8,135.7 L121.0,136.3 L121.3,136.8 L121.5,137.4 L121.8,137.9 L122.0,138.4 L122.3,139.0 L122.5,139.5 L122.8,140.0 L123.0,140.5 L123.3,141.0 L123.5,141.5 L123.8,142.0 L124.0,142.5 L124.3,143.0 L124.5,143.4 L124.8,143.9 L125.0,144.4 L125.9,146.0 L126.8,147.6 L127.7,149.1 L128.6,150.5 L129.5,152.0 L130.4,153.3 L131.2,154.6 L132.1,155.9 L133.0,157.2 L133.9,158.4 L134.8,159.6 L135.7,160.7 L136.6,161.8 L137.5,162.9 L138.4,164.0 L139.3,165.0 L140.2,166.0 L141.1,167.0 L142.0,167.9 L142.8,168.8 L143.7,169.7 L144.6,170.6 L145.5,171.4 L146.4,172.2 L147.3,173.1 L148.2,173.8 L149.1,174.6 L150.0,175.4 L150.9,176.1 L151.8,176.9 L152.7,177.6 L153.6,178.3 L154.4,179.0 L155.3,179.7 L156.2,180.4 L157.1,181.1 L158.0,181.7 L158.9,182.4 L159.8,183.0 L160.7,183.7 L161.6,184.3 L162.5,185.0 L163.4,185.6 L164.3,186.2 L165.2,186.9 L166.0,187.5 L166.9,188.1 L167.8,188.7 L168.7,189.3 L169.6,189.9 L170.5,190.4 L171.4,191.0 L172.3,191.6 L173.2,192.1 L174.1,192.7 L175.0,193.2 L175.9,193.8 L176.7,194.3 L177.6,194.8 L178.5,195.4 L179.4,195.9 L180.3,196.4 L181.2,196.9 L182.1,197.4 L183.0,197.9 L183.9,198.4 L184.8,198.9 L185.7,199.4 L186.6,199.8 L187.5,200.3 L188.3,200.8 L189.2,201.2 L190.1,201.7 L191.0,202.1 L191.9,202.6 L192.8,203.0 L193.7,203.4 L194.6,203.9 L195.5,204.3 L196.4,204.7 L197.3,205.1 L198.2,205.5 L199.1,205.9 L199.9,206.3 L200.8,206.7 L201.7,207.1 L202.6,207.5 L203.5,207.9 L204.4,208.2 L205.3,208.6 L206.2,209.0 L207.1,209.3 L208.0,209.7 L208.9,210.0 L209.8,210.4 L210.7,210.7 L211.5,211.1 L212.4,211.4 L213.3,211.7 L214.2,212.1 L215.1,212.4 L216.0,212.7 L216.9,213.0 L217.8,213.3 L218.7,213.6 L219.6,213.9 L220.5,214.2 L221.4,214.5 L222.3,214.8 L223.1,215.1 L224.0,215.4 L224.9,215.7 L225.8,216.0 L226.7,216.2 L227.6,216.5 L228.5,216.8 L229.4,217.0 L230.3,217.3 L231.2,217.6 L232.1,217.8 L233.0,218.1 L233.9,218.3 L234.7,218.6 L235.6,218.8 L236.5,219.1 L237.4,219.3 L238.3,219.5 L239.2,219.8 L240.1,220.0 L241.0,220.2 L241.9,220.4 L242.8,220.7 L243.7,220.9 L244.6,221.1 L245.5,221.3 L246.3,221.5 L247.2,221.7 L248.1,221.9 L249.0,222.1 L249.9,222.3 L250.8,222.5 L251.7,222.7 L252.6,222.9 L253.5,223.1 L254.4,223.3 L255.3,223.5 L256.2,223.7 L257.1,223.9 L257.9,224.1 L258.8,224.2 L259.7,224.4 L260.6,224.6 L261.5,224.8 L262.4,225.0 L263.3,225.1 L264.2,225.3 L265.1,225.5 L266.0,225.6 L266.9,225.8 L267.8,226.0 L268.6,226.1 L269.5,226.3 L270.4,226.5 L271.3,226.6 L272.2,226.8 L273.1,227.0 L274.0,227.1 L274.9,227.3 L275.8,227.4 L276.7,227.6 L277.6,227.7 L278.5,227.9 L279.4,228.1 L280.2,228.2 L281.1,228.4 L282.0,228.5 L282.9,228.7 L283.8,228.8 L284.7,229.0 L285.6,229.1 L286.5,229.3 L287.4,229.4 L288.3,229.6 L289.2,229.7 L290.1,229.8 L291.0,230.0 L291.8,230.1 L292.7,230.3 L293.6,230.4 L294.5,230.6 L295.4,230.7 L296.3,230.9 L297.2,231.0 L298.1,231.1 L299.0,231.3 L299.9,231.4 L300.8,231.5 L301.7,231.7 L302.6,231.8 L303.4,232.0 L304.3,232.1 L305.2,232.2 L306.1,232.4 L307.0,232.5 L307.9,232.6 L308.8,232.8 L309.7,232.9 L310.6,233.0 L311.5,233.2 L312.4,233.3 L313.3,233.4 L314.2,233.6 L315.0,233.7 L315.9,233.8 L316.8,233.9 L317.7,234.1 L318.6,234.2 L319.5,234.3 L320.4,234.4 L321.3,234.6 L322.2,234.7 L323.1,234.8 L324.0,234.9 L324.9,235.1 L325.8,235.2 L326.6,235.3 L327.5,235.4 L328.4,235.6 L329.3,235.7 L330.2,235.8 L331.1,235.9 L332.0,236.0 L332.9,236.2 L333.8,236.3 L334.7,236.4 L335.6,236.5 L336.5,236.6 L337.4,236.7 L338.2,236.9 L339.1,237.0 L340.0,237.1 L340.9,237.2 L341.8,237.3 L342.7,237.4 L343.6,237.5 L344.5,237.7 L345.4,237.8 L346.3,237.9 L347.2,238.0 L348.1,238.1 L348.9,238.2 L349.8,238.3 L350.7,238.4 L351.6,238.5 L352.5,238.7 L353.4,238.8 L354.3,238.9 L355.2,239.0 L356.1,239.1 L357.0,239.2 L357.9,239.3 L358.8,239.4 L359.7,239.5 L360.5,239.6 L361.4,239.7 L362.3,239.8 L363.2,239.9 L364.1,240.0 L365.0,240.1 L365.9,240.2 L366.8,240.3 L367.7,240.5 L368.6,240.6 L369.5,240.7 L370.4,240.8 L371.3,240.9 L372.1,241.0 L373.0,241.1 L373.9,241.2 L374.8,241.3 L375.7,241.4 L376.6,241.5 L377.5,241.6 L378.4,241.7 L379.3,241.8 L380.2,241.8 L381.1,241.9 L382.0,242.0 L382.9,242.1 L383.7,242.2 L384.6,242.3 L385.5,242.4 L386.4,242.5 L387.3,242.6 L388.2,242.7 L389.1,242.8 L390.0,242.9 L390.9,243.0 L391.8,243.1 L392.7,243.2 L393.6,243.3 L394.5,243.4 L395.3,243.5 L396.2,243.6 L397.1,243.6 L398.0,243.7 L398.9,243.8 L399.8,243.9 L400.7,244.0 L401.6,244.1 L402.5,244.2 L403.4,244.3 L404.3,244.4 L405.2,244.5 L406.1,244.6 L406.9,244.7 L407.8,244.7 L408.7,244.8 L409.6,244.9 L410.5,245.0 L411.4,245.1 L412.3,245.2 L413.2,245.3 L414.1,245.4 L415.0,245.4 L415.9,245.5 L416.8,245.6 L417.7,245.7 L418.5,245.8 L419.4,245.9 L420.3,246.0 L421.2,246.1 L422.1,246.1 L423.0,246.2 L423.9,246.3 L424.8,246.4 L425.7,246.5 L426.6,246.6 L427.5,246.7 L428.4,246.7 L429.3,246.8 L430.1,246.9 L431.0,247.0 L431.9,247.1 L432.8,247.2 L433.7,247.3 L434.6,247.3 L435.5,247.4 L436.4,247.5 L437.3,247.6 L438.2,247.7 L439.1,247.8 L440.0,247.9 L440.8,247.9 L441.7,248.0 L442.6,248.1 L443.5,248.2 L444.4,248.3 L445.3,248.4 L446.2,248.4 L447.1,248.5 L448.0,248.6 L448.9,248.7 L449.8,248.8 L450.7,248.9 L451.6,248.9 L452.4,249.0 L453.3,249.1 L454.2,249.2 L455.1,249.3 L456.0,249.4 L456.9,249.4 L457.8,249.5 L458.7,249.6 L459.6,249.7 L460.5,249.8 L461.4,249.8 L462.3,249.9 L463.2,250.0 L464.0,250.1 L464.9,250.2 L465.8,250.3 L466.7,250.3 L467.6,250.4 L468.5,250.5 L469.4,250.6 L470.3,250.7 L471.2,250.8 L472.1,250.8 L473.0,250.9 L473.9,251.0 L474.8,251.1 L475.6,251.2 L476.5,251.3 L477.4,251.3 L478.3,251.4 L479.2,251.5 L480.1,251.6 L481.0,251.7" fill="none" stroke="#0033cc" stroke-width="3.9" stroke-linejoin="round"/><circle cx="86.8" cy="25.3" r="4.9" fill="none" stroke="#000" stroke-width="0.7"/><circle cx="93.0" cy="34.5" r="4.9" fill="none" stroke="#000" stroke-width="0.7"/><circle cx="98.6" cy="43.1" r="4.9" fill="none" stroke="#000" stroke-width="0.7"/><circle cx="104.3" cy="49.7" r="4.9" fill="none" stroke="#000" stroke-width="0.7"/><circle cx="110.0" cy="54.7" r="4.9" fill="none" stroke="#000" stroke-width="0.7"/><circle cx="115.7" cy="58.9" r="4.9" fill="none" stroke="#000" stroke-width="0.7"/><circle cx="121.3" cy="62.4" r="4.9" fill="none" stroke="#000" stroke-width="0.7"/><circle cx="127.0" cy="65.3" r="4.9" fill="none" stroke="#000" stroke-width="0.7"/><circle cx="132.7" cy="68.1" r="4.9" fill="none" stroke="#000" stroke-width="0.7"/><circle cx="138.4" cy="71.5" r="4.9" fill="none" stroke="#000" stroke-width="0.7"/><circle cx="144.1" cy="74.9" r="4.9" fill="none" stroke="#000" stroke-width="0.7"/><circle cx="149.7" cy="78.4" r="4.9" fill="none" stroke="#000" stroke-width="0.7"/><circle cx="155.4" cy="82.0" r="4.9" fill="none" stroke="#000" stroke-width="0.7"/><circle cx="161.1" cy="85.3" r="4.9" fill="none" stroke="#000" stroke-width="0.7"/><circle cx="166.8" cy="89.0" r="4.9" fill="none" stroke="#000" stroke-width="0.7"/><circle cx="172.4" cy="93.0" r="4.9" fill="none" stroke="#000" stroke-width="0.7"/><circle cx="178.1" cy="97.2" r="4.9" fill="none" stroke="#000" stroke-width="0.7"/><circle cx="183.8" cy="101.2" r="4.9" fill="none" stroke="#000" stroke-width="0.7"/><circle cx="189.5" cy="105.3" r="4.9" fill="none" stroke="#000" stroke-width="0.7"/><circle cx="195.2" cy="109.5" r="4.9" fill="none" stroke="#000" stroke-width="0.7"/><circle cx="223.6" cy="128.2" r="4.9" fill="none" stroke="#000" stroke-width="0.7"/><circle cx="252.0" cy="144.0" r="4.9" fill="none" stroke="#000" stroke-width="0.7"/><circle cx="280.3" cy="156.5" r="4.9" fill="none" stroke="#000" stroke-width="0.7"/><circle cx="308.8" cy="167.4" r="4.9" fill="none" stroke="#000" stroke-width="0.7"/><circle cx="337.1" cy="176.8" r="4.9" fill="none" stroke="#000" stroke-width="0.7"/><circle cx="365.5" cy="184.7" r="4.9" fill="none" stroke="#000" stroke-width="0.7"/><circle cx="393.9" cy="192.0" r="4.9" fill="none" stroke="#000" stroke-width="0.7"/><circle cx="422.3" cy="197.4" r="4.9" fill="none" stroke="#000" stroke-width="0.7"/><path d="M85.5,10.4 L85.7,11.2 L86.0,12.1 L86.2,13.0 L86.5,13.8 L86.7,14.7 L87.0,15.5 L87.2,16.3 L87.5,17.1 L87.7,17.9 L88.0,18.6 L88.2,19.4 L88.5,20.1 L88.7,20.9 L89.0,21.6 L89.2,22.3 L89.5,23.0 L89.7,23.7 L90.0,24.3 L90.2,25.0 L90.5,25.6 L90.7,26.3 L91.0,26.9 L91.2,27.5 L91.5,28.1 L91.7,28.7 L92.0,29.3 L92.2,29.9 L92.5,30.4 L92.7,31.0 L93.0,31.5 L93.2,32.0 L93.4,32.6 L93.7,33.1 L93.9,33.6 L94.2,34.1 L94.4,34.6 L94.7,35.0 L94.9,35.5 L95.2,36.0 L95.4,36.4 L95.7,36.9 L95.9,37.3 L96.2,37.7 L96.4,38.2 L96.7,38.6 L96.9,39.0 L97.2,39.4 L97.4,39.8 L97.7,40.1 L97.9,40.5 L98.2,40.9 L98.4,41.3 L98.7,41.6 L98.9,42.0 L99.2,42.3 L99.4,42.7 L99.7,43.0 L99.9,43.3 L100.2,43.6 L100.4,44.0 L100.7,44.3 L100.9,44.6 L101.2,44.9 L101.4,45.2 L101.6,45.5 L101.9,45.8 L102.1,46.0 L102.4,46.3 L102.6,46.6 L102.9,46.9 L103.1,47.1 L103.4,47.4 L103.6,47.7 L103.9,47.9 L104.1,48.2 L104.4,48.4 L104.6,48.7 L104.9,48.9 L105.1,49.2 L105.4,49.4 L105.6,49.7 L105.9,49.9 L106.1,50.1 L106.4,50.4 L106.6,50.6 L106.9,50.8 L107.1,51.0 L107.4,51.3 L107.6,51.5 L107.9,51.7 L108.1,51.9 L108.4,52.1 L108.6,52.4 L108.9,52.6 L109.1,52.8 L109.3,53.0 L109.6,53.2 L109.8,53.4 L110.1,53.6 L110.3,53.8 L110.6,54.0 L110.8,54.2 L111.1,54.4 L111.3,54.6 L111.6,54.8 L111.8,54.9 L112.1,55.1 L112.3,55.3 L112.6,55.5 L112.8,55.7 L113.1,55.9 L113.3,56.0 L113.6,56.2 L113.8,56.4 L114.1,56.6 L114.3,56.7 L114.6,56.9 L114.8,57.1 L115.1,57.2 L115.3,57.4 L115.6,57.6 L115.8,57.7 L116.1,57.9 L116.3,58.0 L116.6,58.2 L116.8,58.4 L117.1,58.5 L117.3,58.7 L117.5,58.8 L117.8,59.0 L118.0,59.1 L118.3,59.3 L118.5,59.4 L118.8,59.6 L119.0,59.7 L119.3,59.9 L119.5,60.0 L119.8,60.1 L120.0,60.3 L120.3,60.4 L120.5,60.6 L120.8,60.7 L121.0,60.8 L121.3,61.0 L121.5,61.1 L121.8,61.2 L122.0,61.4 L122.3,61.5 L122.5,61.6 L122.8,61.8 L123.0,61.9 L123.3,62.0 L123.5,62.2 L123.8,62.3 L124.0,62.4 L124.3,62.5 L124.5,62.7 L124.8,62.8 L125.0,62.9 L125.9,63.4 L126.8,63.8 L127.7,64.2 L128.6,64.7 L129.5,65.1 L130.4,65.5 L131.2,65.9 L132.1,66.3 L133.0,66.7 L133.9,67.2 L134.8,67.6 L135.7,68.0 L136.6,68.4 L137.5,68.8 L138.4,69.2 L139.3,69.7 L140.2,70.1 L141.1,70.5 L142.0,70.9 L142.8,71.3 L143.7,71.8 L144.6,72.2 L145.5,72.6 L146.4,73.1 L147.3,73.5 L148.2,74.0 L149.1,74.4 L150.0,74.9 L150.9,75.4 L151.8,75.8 L152.7,76.3 L153.6,76.8 L154.4,77.3 L155.3,77.8 L156.2,78.3 L157.1,78.8 L158.0,79.3 L158.9,79.8 L159.8,80.4 L160.7,80.9 L161.6,81.5 L162.5,82.0 L163.4,82.6 L164.3,83.2 L165.2,83.8 L166.0,84.4 L166.9,85.0 L167.8,85.6 L168.7,86.2 L169.6,86.8 L170.5,87.5 L171.4,88.1 L172.3,88.8 L173.2,89.5 L174.1,90.1 L175.0,90.8 L175.9,91.5 L176.7,92.2 L177.6,92.8 L178.5,93.5 L179.4,94.2 L180.3,94.9 L181.2,95.6 L182.1,96.4 L183.0,97.1 L183.9,97.8 L184.8,98.5 L185.7,99.2 L186.6,100.0 L187.5,100.7 L188.3,101.4 L189.2,102.1 L190.1,102.9 L191.0,103.6 L191.9,104.3 L192.8,105.1 L193.7,105.8 L194.6,106.5 L195.5,107.3 L196.4,108.0 L197.3,108.7 L198.2,109.4 L199.1,110.2 L199.9,110.9 L200.8,111.6 L201.7,112.3 L202.6,113.0 L203.5,113.7 L204.4,114.4 L205.3,115.1 L206.2,115.8 L207.1,116.5 L208.0,117.2 L208.9,117.9 L209.8,118.6 L210.7,119.3 L211.5,119.9 L212.4,120.6 L213.3,121.3 L214.2,121.9 L215.1,122.6 L216.0,123.2 L216.9,123.9 L217.8,124.5 L218.7,125.2 L219.6,125.8 L220.5,126.4 L221.4,127.1 L222.3,127.7 L223.1,128.3 L224.0,128.9 L224.9,129.6 L225.8,130.2 L226.7,130.8 L227.6,131.4 L228.5,132.0 L229.4,132.6 L230.3,133.2 L231.2,133.7 L232.1,134.3 L233.0,134.9 L233.9,135.5 L234.7,136.1 L235.6,136.6 L236.5,137.2 L237.4,137.8 L238.3,138.3 L239.2,138.9 L240.1,139.4 L241.0,140.0 L241.9,140.5 L242.8,141.1 L243.7,141.6 L244.6,142.1 L245.5,142.7 L246.3,143.2 L247.2,143.7 L248.1,144.2 L249.0,144.7 L249.9,145.3 L250.8,145.8 L251.7,146.3 L252.6,146.8 L253.5,147.3 L254.4,147.8 L255.3,148.3 L256.2,148.8 L257.1,149.2 L257.9,149.7 L258.8,150.2 L259.7,150.7 L260.6,151.2 L261.5,151.6 L262.4,152.1 L263.3,152.6 L264.2,153.0 L265.1,153.5 L266.0,153.9 L266.9,154.4 L267.8,154.8 L268.6,155.3 L269.5,155.7 L270.4,156.2 L271.3,156.6 L272.2,157.0 L273.1,157.5 L274.0,157.9 L274.9,158.3 L275.8,158.7 L276.7,159.2 L277.6,159.6 L278.5,160.0 L279.4,160.4 L280.2,160.8 L281.1,161.2 L282.0,161.6 L282.9,162.0 L283.8,162.4 L284.7,162.8 L285.6,163.2 L286.5,163.6 L287.4,164.0 L288.3,164.4 L289.2,164.7 L290.1,165.1 L291.0,165.5 L291.8,165.9 L292.7,166.2 L293.6,166.6 L294.5,167.0 L295.4,167.3 L296.3,167.7 L297.2,168.1 L298.1,168.4 L299.0,168.8 L299.9,169.1 L300.8,169.5 L301.7,169.8 L302.6,170.1 L303.4,170.5 L304.3,170.8 L305.2,171.2 L306.1,171.5 L307.0,171.8 L307.9,172.1 L308.8,172.5 L309.7,172.8 L310.6,173.1 L311.5,173.4 L312.4,173.7 L313.3,174.1 L314.2,174.4 L315.0,174.7 L315.9,175.0 L316.8,175.3 L317.7,175.6 L318.6,175.9 L319.5,176.2 L320.4,176.5 L321.3,176.8 L322.2,177.1 L323.1,177.4 L324.0,177.7 L324.9,177.9 L325.8,178.2 L326.6,178.5 L327.5,178.8 L328.4,179.1 L329.3,179.3 L330.2,179.6 L331.1,179.9 L332.0,180.2 L332.9,180.4 L333.8,180.7 L334.7,181.0 L335.6,181.2 L336.5,181.5 L337.4,181.7 L338.2,182.0 L339.1,182.3 L340.0,182.5 L340.9,182.8 L341.8,183.0 L342.7,183.3 L343.6,183.5 L344.5,183.8 L345.4,184.0 L346.3,184.2 L347.2,184.5 L348.1,184.7 L348.9,185.0 L349.8,185.2 L350.7,185.4 L351.6,185.7 L352.5,185.9 L353.4,186.1 L354.3,186.3 L355.2,186.6 L356.1,186.8 L357.0,187.0 L357.9,187.2 L358.8,187.5 L359.7,187.7 L360.5,187.9 L361.4,188.1 L362.3,188.3 L363.2,188.5 L364.1,188.7 L365.0,189.0 L365.9,189.2 L366.8,189.4 L367.7,189.6 L368.6,189.8 L369.5,190.0 L370.4,190.2 L371.3,190.4 L372.1,190.6 L373.0,190.8 L373.9,191.0 L374.8,191.2 L375.7,191.4 L376.6,191.6 L377.5,191.8 L378.4,192.0 L379.3,192.1 L380.2,192.3 L381.1,192.5 L382.0,192.7 L382.9,192.9 L383.7,193.1 L384.6,193.3 L385.5,193.5 L386.4,193.6 L387.3,193.8 L388.2,194.0 L389.1,194.2 L390.0,194.4 L390.9,194.5 L391.8,194.7 L392.7,194.9 L393.6,195.1 L394.5,195.2 L395.3,195.4 L396.2,195.6 L397.1,195.8 L398.0,195.9 L398.9,196.1 L399.8,196.3 L400.7,196.4 L401.6,196.6 L402.5,196.8 L403.4,196.9 L404.3,197.1 L405.2,197.3 L406.1,197.4 L406.9,197.6 L407.8,197.8 L408.7,197.9 L409.6,198.1 L410.5,198.3 L411.4,198.4 L412.3,198.6 L413.2,198.7 L414.1,198.9 L415.0,199.1 L415.9,199.2 L416.8,199.4 L417.7,199.5 L418.5,199.7 L419.4,199.9 L420.3,200.0 L421.2,200.2 L422.1,200.3 L423.0,200.5 L423.9,200.6 L424.8,200.8 L425.7,201.0 L426.6,201.1 L427.5,201.3 L428.4,201.4 L429.3,201.6 L430.1,201.7 L431.0,201.9 L431.9,202.0 L432.8,202.2 L433.7,202.4 L434.6,202.5 L435.5,202.7 L436.4,202.8 L437.3,203.0 L438.2,203.1 L439.1,203.3 L440.0,203.4 L440.8,203.6 L441.7,203.7 L442.6,203.9 L443.5,204.0 L444.4,204.2 L445.3,204.3 L446.2,204.5 L447.1,204.7 L448.0,204.8 L448.9,205.0 L449.8,205.1 L450.7,205.3 L451.6,205.4 L452.4,205.6 L453.3,205.7 L454.2,205.9 L455.1,206.1 L456.0,206.2 L456.9,206.4 L457.8,206.5 L458.7,206.7 L459.6,206.8 L460.5,207.0 L461.4,207.1 L462.3,207.3 L463.2,207.5 L464.0,207.6 L464.9,207.8 L465.8,207.9 L466.7,208.1 L467.6,208.3 L468.5,208.4 L469.4,208.6 L470.3,208.7 L471.2,208.9 L472.1,209.1 L473.0,209.2 L473.9,209.4 L474.8,209.6 L475.6,209.7 L476.5,209.9 L477.4,210.1 L478.3,210.2 L479.2,210.4 L480.1,210.6 L481.0,210.7" fill="none" stroke="#000" stroke-width="3.9" stroke-linejoin="round"/></g><g clip-path="url(#cb)"><circle cx="155.4" cy="346.0" r="5" fill="#009a00"/><circle cx="161.1" cy="346.7" r="5" fill="#009a00"/><circle cx="166.8" cy="347.6" r="5" fill="#009a00"/><circle cx="172.4" cy="348.9" r="5" fill="#009a00"/><circle cx="178.1" cy="350.4" r="5" fill="#009a00"/><circle cx="183.8" cy="351.9" r="5" fill="#009a00"/><circle cx="189.5" cy="353.3" r="5" fill="#009a00"/><circle cx="195.2" cy="354.8" r="5" fill="#009a00"/><circle cx="223.6" cy="361.8" r="5" fill="#009a00"/><circle cx="252.0" cy="368.9" r="5" fill="#009a00"/><circle cx="280.3" cy="374.4" r="5" fill="#009a00"/><circle cx="308.8" cy="381.8" r="5" fill="#009a00"/><circle cx="337.1" cy="388.5" r="5" fill="#009a00"/><circle cx="365.5" cy="395.3" r="5" fill="#009a00"/><circle cx="393.9" cy="400.6" r="5" fill="#009a00"/><circle cx="422.3" cy="406.2" r="5" fill="#009a00"/><path d="M83.2,262.1 L83.5,266.3 L83.7,269.4 L84.0,271.9 L84.3,274.0 L84.5,275.9 L84.8,277.6 L85.0,279.1 L85.3,280.5 L85.6,281.8 L85.8,283.0 L86.1,284.2 L86.4,285.3 L86.6,286.3 L86.9,287.4 L87.1,288.4 L87.4,289.3 L87.7,290.3 L87.9,291.2 L88.2,292.1 L88.5,293.0 L88.7,293.8 L89.0,294.6 L89.2,295.4 L89.5,296.2 L89.8,297.0 L90.0,297.7 L90.3,298.4 L90.6,299.1 L90.8,299.8 L91.1,300.5 L91.3,301.1 L91.6,301.7 L91.9,302.3 L92.1,302.9 L92.4,303.5 L92.7,304.1 L92.9,304.6 L93.2,305.2 L93.5,305.7 L93.7,306.2 L94.0,306.7 L94.2,307.2 L94.5,307.7 L94.8,308.2 L95.0,308.7 L95.3,309.1 L95.6,309.6 L95.8,310.0 L96.1,310.4 L96.3,310.9 L96.6,311.3 L96.9,311.7 L97.1,312.1 L97.4,312.5 L97.7,312.8 L97.9,313.2 L98.2,313.6 L98.4,313.9 L98.7,314.3 L99.0,314.6 L99.2,315.0 L99.5,315.3 L99.8,315.6 L100.0,315.9 L100.3,316.2 L100.6,316.5 L100.8,316.8 L101.1,317.1 L101.3,317.4 L101.6,317.7 L101.9,318.0 L102.1,318.3 L102.4,318.5 L102.7,318.8 L102.9,319.1 L103.2,319.3 L103.4,319.6 L103.7,319.8 L104.0,320.1 L104.2,320.3 L104.5,320.6 L104.8,320.8 L105.0,321.1 L105.3,321.3 L105.5,321.5 L105.8,321.8 L106.1,322.0 L106.3,322.2 L106.6,322.5 L106.9,322.7 L107.1,322.9 L107.4,323.1 L107.6,323.4 L107.9,323.6 L108.2,323.8 L108.4,324.0 L108.7,324.2 L109.0,324.4 L109.2,324.6 L109.5,324.9 L109.8,325.1 L110.0,325.3 L110.3,325.5 L110.5,325.7 L110.8,325.9 L111.1,326.1 L111.3,326.3 L111.6,326.5 L111.9,326.6 L112.1,326.8 L112.4,327.0 L112.6,327.2 L112.9,327.4 L113.2,327.6 L113.4,327.8 L113.7,327.9 L114.0,328.1 L114.2,328.3 L114.5,328.5 L114.7,328.7 L115.0,328.8 L115.3,329.0 L115.5,329.2 L115.8,329.3 L116.1,329.5 L116.3,329.7 L116.6,329.8 L116.9,330.0 L117.1,330.2 L117.4,330.3 L117.6,330.5 L117.9,330.6 L118.2,330.8 L118.4,330.9 L118.7,331.1 L119.0,331.2 L119.2,331.4 L119.5,331.5 L119.7,331.7 L120.0,331.8 L120.3,332.0 L120.5,332.1 L120.8,332.3 L121.1,332.4 L121.3,332.5 L121.6,332.7 L121.8,332.8 L122.1,333.0 L122.4,333.1 L122.6,333.2 L122.9,333.4 L123.2,333.5 L123.4,333.6 L123.7,333.7 L123.9,333.9 L124.2,334.0 L124.5,334.1 L124.7,334.2 L125.0,334.4 L125.9,334.8 L126.8,335.2 L127.7,335.5 L128.6,335.9 L129.5,336.3 L130.4,336.6 L131.2,337.0 L132.1,337.3 L133.0,337.6 L133.9,337.9 L134.8,338.2 L135.7,338.5 L136.6,338.8 L137.5,339.1 L138.4,339.4 L139.3,339.7 L140.2,339.9 L141.1,340.2 L142.0,340.4 L142.8,340.7 L143.7,340.9 L144.6,341.2 L145.5,341.4 L146.4,341.7 L147.3,341.9 L148.2,342.1 L149.1,342.4 L150.0,342.6 L150.9,342.8 L151.8,343.1 L152.7,343.3 L153.6,343.5 L154.4,343.8 L155.3,344.0 L156.2,344.2 L157.1,344.5 L158.0,344.7 L158.9,344.9 L159.8,345.2 L160.7,345.4 L161.6,345.6 L162.5,345.9 L163.4,346.1 L164.3,346.3 L165.2,346.5 L166.0,346.8 L166.9,347.0 L167.8,347.2 L168.7,347.5 L169.6,347.7 L170.5,347.9 L171.4,348.2 L172.3,348.4 L173.2,348.6 L174.1,348.9 L175.0,349.1 L175.9,349.3 L176.7,349.6 L177.6,349.8 L178.5,350.0 L179.4,350.2 L180.3,350.5 L181.2,350.7 L182.1,350.9 L183.0,351.2 L183.9,351.4 L184.8,351.6 L185.7,351.9 L186.6,352.1 L187.5,352.3 L188.3,352.5 L189.2,352.8 L190.1,353.0 L191.0,353.2 L191.9,353.5 L192.8,353.7 L193.7,353.9 L194.6,354.1 L195.5,354.4 L196.4,354.6 L197.3,354.8 L198.2,355.0 L199.1,355.3 L199.9,355.5 L200.8,355.7 L201.7,356.0 L202.6,356.2 L203.5,356.4 L204.4,356.6 L205.3,356.9 L206.2,357.1 L207.1,357.3 L208.0,357.5 L208.9,357.8 L209.8,358.0 L210.7,358.2 L211.5,358.4 L212.4,358.7 L213.3,358.9 L214.2,359.1 L215.1,359.3 L216.0,359.6 L216.9,359.8 L217.8,360.0 L218.7,360.2 L219.6,360.5 L220.5,360.7 L221.4,360.9 L222.3,361.1 L223.1,361.4 L224.0,361.6 L224.9,361.8 L225.8,362.0 L226.7,362.3 L227.6,362.5 L228.5,362.7 L229.4,362.9 L230.3,363.1 L231.2,363.4 L232.1,363.6 L233.0,363.8 L233.9,364.0 L234.7,364.3 L235.6,364.5 L236.5,364.7 L237.4,364.9 L238.3,365.1 L239.2,365.4 L240.1,365.6 L241.0,365.8 L241.9,366.0 L242.8,366.2 L243.7,366.5 L244.6,366.7 L245.5,366.9 L246.3,367.1 L247.2,367.3 L248.1,367.6 L249.0,367.8 L249.9,368.0 L250.8,368.2 L251.7,368.4 L252.6,368.7 L253.5,368.9 L254.4,369.1 L255.3,369.3 L256.2,369.5 L257.1,369.8 L257.9,370.0 L258.8,370.2 L259.7,370.4 L260.6,370.6 L261.5,370.8 L262.4,371.1 L263.3,371.3 L264.2,371.5 L265.1,371.7 L266.0,371.9 L266.9,372.1 L267.8,372.4 L268.6,372.6 L269.5,372.8 L270.4,373.0 L271.3,373.2 L272.2,373.4 L273.1,373.7 L274.0,373.9 L274.9,374.1 L275.8,374.3 L276.7,374.5 L277.6,374.7 L278.5,374.9 L279.4,375.2 L280.2,375.4 L281.1,375.6 L282.0,375.8 L282.9,376.0 L283.8,376.2 L284.7,376.4 L285.6,376.6 L286.5,376.9 L287.4,377.1 L288.3,377.3 L289.2,377.5 L290.1,377.7 L291.0,377.9 L291.8,378.1 L292.7,378.3 L293.6,378.6 L294.5,378.8 L295.4,379.0 L296.3,379.2 L297.2,379.4 L298.1,379.6 L299.0,379.8 L299.9,380.0 L300.8,380.2 L301.7,380.4 L302.6,380.7 L303.4,380.9 L304.3,381.1 L305.2,381.3 L306.1,381.5 L307.0,381.7 L307.9,381.9 L308.8,382.1 L309.7,382.3 L310.6,382.5 L311.5,382.7 L312.4,382.9 L313.3,383.1 L314.2,383.4 L315.0,383.6 L315.9,383.8 L316.8,384.0 L317.7,384.2 L318.6,384.4 L319.5,384.6 L320.4,384.8 L321.3,385.0 L322.2,385.2 L323.1,385.4 L324.0,385.6 L324.9,385.8 L325.8,386.0 L326.6,386.2 L327.5,386.4 L328.4,386.6 L329.3,386.8 L330.2,387.0 L331.1,387.2 L332.0,387.5 L332.9,387.7 L333.8,387.9 L334.7,388.1 L335.6,388.3 L336.5,388.5 L337.4,388.7 L338.2,388.9 L339.1,389.1 L340.0,389.3 L340.9,389.5 L341.8,389.7 L342.7,389.9 L343.6,390.1 L344.5,390.3 L345.4,390.5 L346.3,390.7 L347.2,390.9 L348.1,391.1 L348.9,391.3 L349.8,391.5 L350.7,391.7 L351.6,391.9 L352.5,392.1 L353.4,392.3 L354.3,392.5 L355.2,392.7 L356.1,392.9 L357.0,393.0 L357.9,393.2 L358.8,393.4 L359.7,393.6 L360.5,393.8 L361.4,394.0 L362.3,394.2 L363.2,394.4 L364.1,394.6 L365.0,394.8 L365.9,395.0 L366.8,395.2 L367.7,395.4 L368.6,395.6 L369.5,395.8 L370.4,396.0 L371.3,396.2 L372.1,396.4 L373.0,396.6 L373.9,396.7 L374.8,396.9 L375.7,397.1 L376.6,397.3 L377.5,397.5 L378.4,397.7 L379.3,397.9 L380.2,398.1 L381.1,398.3 L382.0,398.5 L382.9,398.7 L383.7,398.9 L384.6,399.0 L385.5,399.2 L386.4,399.4 L387.3,399.6 L388.2,399.8 L389.1,400.0 L390.0,400.2 L390.9,400.4 L391.8,400.6 L392.7,400.7 L393.6,400.9 L394.5,401.1 L395.3,401.3 L396.2,401.5 L397.1,401.7 L398.0,401.9 L398.9,402.1 L399.8,402.2 L400.7,402.4 L401.6,402.6 L402.5,402.8 L403.4,403.0 L404.3,403.2 L405.2,403.3 L406.1,403.5 L406.9,403.7 L407.8,403.9 L408.7,404.1 L409.6,404.3 L410.5,404.5 L411.4,404.6 L412.3,404.8 L413.2,405.0 L414.1,405.2 L415.0,405.4 L415.9,405.5 L416.8,405.7 L417.7,405.9 L418.5,406.1 L419.4,406.3 L420.3,406.4 L421.2,406.6 L422.1,406.8 L423.0,407.0 L423.9,407.2 L424.8,407.3 L425.7,407.5 L426.6,407.7 L427.5,407.9 L428.4,408.1 L429.3,408.2 L430.1,408.4 L431.0,408.6 L431.9,408.8 L432.8,408.9 L433.7,409.1 L434.6,409.3 L435.5,409.5 L436.4,409.6 L437.3,409.8 L438.2,410.0 L439.1,410.2 L440.0,410.4 L440.8,410.5 L441.7,410.7 L442.6,410.9 L443.5,411.0 L444.4,411.2 L445.3,411.4 L446.2,411.6 L447.1,411.7 L448.0,411.9 L448.9,412.1 L449.8,412.3 L450.7,412.4 L451.6,412.6 L452.4,412.8 L453.3,412.9 L454.2,413.1 L455.1,413.3 L456.0,413.4 L456.9,413.6 L457.8,413.8 L458.7,414.0 L459.6,414.1 L460.5,414.3 L461.4,414.5 L462.3,414.6 L463.2,414.8 L464.0,415.0 L464.9,415.1 L465.8,415.3 L466.7,415.5 L467.6,415.6 L468.5,415.8 L469.4,416.0 L470.3,416.1 L471.2,416.3 L472.1,416.5 L473.0,416.6 L473.9,416.8 L474.8,416.9 L475.6,417.1 L476.5,417.3 L477.4,417.4 L478.3,417.6 L479.2,417.8 L480.1,417.9 L481.0,418.1" fill="none" stroke="#00c800" stroke-width="3.9" stroke-linejoin="round"/><rect x="80.3" y="286.6" width="9.4" height="9.4" fill="#009999"/><rect x="86.5" y="286.0" width="9.4" height="9.4" fill="#009999"/><rect x="90.3" y="294.1" width="9.4" height="9.4" fill="#009999"/><rect x="95.5" y="302.8" width="9.4" height="9.4" fill="#009999"/><rect x="100.1" y="310.9" width="9.4" height="9.4" fill="#009999"/><rect x="105.4" y="316.7" width="9.4" height="9.4" fill="#009999"/><rect x="111.0" y="322.0" width="9.4" height="9.4" fill="#009999"/><rect x="116.6" y="325.5" width="9.4" height="9.4" fill="#009999"/><rect x="122.3" y="328.7" width="9.4" height="9.4" fill="#009999"/><rect x="128.0" y="331.9" width="9.4" height="9.4" fill="#009999"/><rect x="133.7" y="335.2" width="9.4" height="9.4" fill="#009999"/><rect x="139.4" y="338.3" width="9.4" height="9.4" fill="#009999"/><rect x="145.0" y="340.9" width="9.4" height="9.4" fill="#009999"/><rect x="150.7" y="343.7" width="9.4" height="9.4" fill="#009999"/><rect x="156.4" y="346.4" width="9.4" height="9.4" fill="#009999"/><rect x="162.1" y="349.1" width="9.4" height="9.4" fill="#009999"/><rect x="167.7" y="352.0" width="9.4" height="9.4" fill="#009999"/><rect x="173.4" y="355.5" width="9.4" height="9.4" fill="#009999"/><rect x="179.1" y="359.4" width="9.4" height="9.4" fill="#009999"/><rect x="184.8" y="363.6" width="9.4" height="9.4" fill="#009999"/><rect x="190.5" y="367.1" width="9.4" height="9.4" fill="#009999"/><rect x="218.9" y="385.9" width="9.4" height="9.4" fill="#009999"/><rect x="247.3" y="400.6" width="9.4" height="9.4" fill="#009999"/><rect x="275.6" y="412.1" width="9.4" height="9.4" fill="#009999"/><rect x="304.1" y="421.1" width="9.4" height="9.4" fill="#009999"/><rect x="332.4" y="429.1" width="9.4" height="9.4" fill="#009999"/><rect x="360.8" y="434.2" width="9.4" height="9.4" fill="#009999"/><rect x="389.2" y="439.0" width="9.4" height="9.4" fill="#009999"/><rect x="417.6" y="442.9" width="9.4" height="9.4" fill="#009999"/><path d="M83.2,262.2 L83.5,265.8 L83.7,268.9 L84.0,271.6 L84.3,274.0 L84.5,276.1 L84.8,277.9 L85.0,279.4 L85.3,280.8 L85.6,282.0 L85.8,283.1 L86.1,284.1 L86.4,285.1 L86.6,286.1 L86.9,287.1 L87.1,288.0 L87.4,289.0 L87.7,289.9 L87.9,290.8 L88.2,291.8 L88.5,292.7 L88.7,293.5 L89.0,294.4 L89.2,295.2 L89.5,296.1 L89.8,296.9 L90.0,297.7 L90.3,298.4 L90.6,299.2 L90.8,299.9 L91.1,300.6 L91.3,301.2 L91.6,301.9 L91.9,302.5 L92.1,303.1 L92.4,303.7 L92.7,304.3 L92.9,304.9 L93.2,305.4 L93.5,305.9 L93.7,306.4 L94.0,306.9 L94.2,307.4 L94.5,307.9 L94.8,308.4 L95.0,308.8 L95.3,309.3 L95.6,309.7 L95.8,310.1 L96.1,310.5 L96.3,310.9 L96.6,311.3 L96.9,311.7 L97.1,312.1 L97.4,312.5 L97.7,312.9 L97.9,313.2 L98.2,313.6 L98.4,313.9 L98.7,314.3 L99.0,314.6 L99.2,314.9 L99.5,315.3 L99.8,315.6 L100.0,315.9 L100.3,316.2 L100.6,316.5 L100.8,316.8 L101.1,317.1 L101.3,317.4 L101.6,317.7 L101.9,318.0 L102.1,318.3 L102.4,318.5 L102.7,318.8 L102.9,319.1 L103.2,319.3 L103.4,319.6 L103.7,319.8 L104.0,320.1 L104.2,320.3 L104.5,320.6 L104.8,320.8 L105.0,321.0 L105.3,321.3 L105.5,321.5 L105.8,321.7 L106.1,321.9 L106.3,322.2 L106.6,322.4 L106.9,322.6 L107.1,322.8 L107.4,323.0 L107.6,323.2 L107.9,323.5 L108.2,323.7 L108.4,323.9 L108.7,324.1 L109.0,324.3 L109.2,324.5 L109.5,324.7 L109.8,324.9 L110.0,325.1 L110.3,325.3 L110.5,325.5 L110.8,325.7 L111.1,325.9 L111.3,326.1 L111.6,326.3 L111.9,326.5 L112.1,326.6 L112.4,326.8 L112.6,327.0 L112.9,327.2 L113.2,327.4 L113.4,327.6 L113.7,327.8 L114.0,328.0 L114.2,328.1 L114.5,328.3 L114.7,328.5 L115.0,328.7 L115.3,328.9 L115.5,329.0 L115.8,329.2 L116.1,329.4 L116.3,329.6 L116.6,329.7 L116.9,329.9 L117.1,330.1 L117.4,330.2 L117.6,330.4 L117.9,330.6 L118.2,330.7 L118.4,330.9 L118.7,331.1 L119.0,331.2 L119.2,331.4 L119.5,331.6 L119.7,331.7 L120.0,331.9 L120.3,332.0 L120.5,332.2 L120.8,332.3 L121.1,332.5 L121.3,332.7 L121.6,332.8 L121.8,333.0 L122.1,333.1 L122.4,333.3 L122.6,333.4 L122.9,333.6 L123.2,333.7 L123.4,333.9 L123.7,334.0 L123.9,334.1 L124.2,334.3 L124.5,334.4 L124.7,334.6 L125.0,334.7 L125.9,335.2 L126.8,335.6 L127.7,336.1 L128.6,336.5 L129.5,336.9 L130.4,337.3 L131.2,337.7 L132.1,338.1 L133.0,338.5 L133.9,338.9 L134.8,339.2 L135.7,339.6 L136.6,339.9 L137.5,340.2 L138.4,340.5 L139.3,340.8 L140.2,341.1 L141.1,341.4 L142.0,341.7 L142.8,342.0 L143.7,342.2 L144.6,342.5 L145.5,342.8 L146.4,343.1 L147.3,343.3 L148.2,343.6 L149.1,343.9 L150.0,344.2 L150.9,344.5 L151.8,344.8 L152.7,345.1 L153.6,345.4 L154.4,345.8 L155.3,346.1 L156.2,346.5 L157.1,346.9 L158.0,347.2 L158.9,347.6 L159.8,348.1 L160.7,348.5 L161.6,348.9 L162.5,349.4 L163.4,349.9 L164.3,350.3 L165.2,350.8 L166.0,351.3 L166.9,351.8 L167.8,352.4 L168.7,352.9 L169.6,353.4 L170.5,354.0 L171.4,354.5 L172.3,355.1 L173.2,355.6 L174.1,356.2 L175.0,356.8 L175.9,357.3 L176.7,357.9 L177.6,358.5 L178.5,359.1 L179.4,359.7 L180.3,360.3 L181.2,360.9 L182.1,361.4 L183.0,362.0 L183.9,362.6 L184.8,363.2 L185.7,363.8 L186.6,364.4 L187.5,365.0 L188.3,365.6 L189.2,366.2 L190.1,366.8 L191.0,367.4 L191.9,368.0 L192.8,368.6 L193.7,369.2 L194.6,369.8 L195.5,370.4 L196.4,371.0 L197.3,371.5 L198.2,372.1 L199.1,372.7 L199.9,373.3 L200.8,373.9 L201.7,374.5 L202.6,375.1 L203.5,375.7 L204.4,376.2 L205.3,376.8 L206.2,377.4 L207.1,378.0 L208.0,378.5 L208.9,379.1 L209.8,379.7 L210.7,380.3 L211.5,380.8 L212.4,381.4 L213.3,382.0 L214.2,382.5 L215.1,383.1 L216.0,383.6 L216.9,384.2 L217.8,384.8 L218.7,385.3 L219.6,385.9 L220.5,386.4 L221.4,387.0 L222.3,387.5 L223.1,388.0 L224.0,388.6 L224.9,389.1 L225.8,389.7 L226.7,390.2 L227.6,390.7 L228.5,391.2 L229.4,391.8 L230.3,392.3 L231.2,392.8 L232.1,393.3 L233.0,393.8 L233.9,394.3 L234.7,394.8 L235.6,395.3 L236.5,395.8 L237.4,396.3 L238.3,396.8 L239.2,397.3 L240.1,397.8 L241.0,398.3 L241.9,398.7 L242.8,399.2 L243.7,399.7 L244.6,400.2 L245.5,400.6 L246.3,401.1 L247.2,401.5 L248.1,402.0 L249.0,402.4 L249.9,402.9 L250.8,403.3 L251.7,403.7 L252.6,404.2 L253.5,404.6 L254.4,405.0 L255.3,405.4 L256.2,405.9 L257.1,406.3 L257.9,406.7 L258.8,407.1 L259.7,407.5 L260.6,407.9 L261.5,408.3 L262.4,408.7 L263.3,409.0 L264.2,409.4 L265.1,409.8 L266.0,410.2 L266.9,410.6 L267.8,410.9 L268.6,411.3 L269.5,411.7 L270.4,412.0 L271.3,412.4 L272.2,412.7 L273.1,413.1 L274.0,413.4 L274.9,413.8 L275.8,414.1 L276.7,414.5 L277.6,414.8 L278.5,415.2 L279.4,415.5 L280.2,415.8 L281.1,416.1 L282.0,416.5 L282.9,416.8 L283.8,417.1 L284.7,417.4 L285.6,417.8 L286.5,418.1 L287.4,418.4 L288.3,418.7 L289.2,419.0 L290.1,419.3 L291.0,419.6 L291.8,419.9 L292.7,420.2 L293.6,420.5 L294.5,420.8 L295.4,421.1 L296.3,421.4 L297.2,421.7 L298.1,422.0 L299.0,422.3 L299.9,422.6 L300.8,422.9 L301.7,423.2 L302.6,423.5 L303.4,423.7 L304.3,424.0 L305.2,424.3 L306.1,424.6 L307.0,424.9 L307.9,425.1 L308.8,425.4 L309.7,425.7 L310.6,426.0 L311.5,426.2 L312.4,426.5 L313.3,426.8 L314.2,427.1 L315.0,427.3 L315.9,427.6 L316.8,427.9 L317.7,428.1 L318.6,428.4 L319.5,428.7 L320.4,428.9 L321.3,429.2 L322.2,429.5 L323.1,429.7 L324.0,430.0 L324.9,430.3 L325.8,430.5 L326.6,430.8 L327.5,431.0 L328.4,431.3 L329.3,431.5 L330.2,431.8 L331.1,432.1 L332.0,432.3 L332.9,432.6 L333.8,432.8 L334.7,433.1 L335.6,433.3 L336.5,433.6 L337.4,433.8 L338.2,434.0 L339.1,434.3 L340.0,434.5 L340.9,434.8 L341.8,435.0 L342.7,435.3 L343.6,435.5 L344.5,435.7 L345.4,436.0 L346.3,436.2 L347.2,436.5 L348.1,436.7 L348.9,436.9 L349.8,437.2 L350.7,437.4 L351.6,437.6 L352.5,437.8 L353.4,438.1 L354.3,438.3 L355.2,438.5 L356.1,438.8 L357.0,439.0 L357.9,439.2 L358.8,439.4 L359.7,439.7 L360.5,439.9 L361.4,440.1 L362.3,440.3 L363.2,440.5 L364.1,440.7 L365.0,441.0 L365.9,441.2 L366.8,441.4 L367.7,441.6 L368.6,441.8 L369.5,442.0 L370.4,442.2 L371.3,442.4 L372.1,442.7 L373.0,442.9 L373.9,443.1 L374.8,443.3 L375.7,443.5 L376.6,443.7 L377.5,443.9 L378.4,444.1 L379.3,444.3 L380.2,444.5 L381.1,444.7 L382.0,444.9 L382.9,445.1 L383.7,445.3 L384.6,445.5 L385.5,445.6 L386.4,445.8 L387.3,446.0 L388.2,446.2 L389.1,446.4 L390.0,446.6 L390.9,446.8 L391.8,447.0 L392.7,447.2 L393.6,447.3 L394.5,447.5 L395.3,447.7 L396.2,447.9 L397.1,448.1 L398.0,448.2 L398.9,448.4 L399.8,448.6 L400.7,448.8 L401.6,448.9 L402.5,449.1 L403.4,449.3 L404.3,449.5 L405.2,449.6 L406.1,449.8 L406.9,450.0 L407.8,450.1 L408.7,450.3 L409.6,450.5 L410.5,450.6 L411.4,450.8 L412.3,450.9 L413.2,451.1 L414.1,451.3 L415.0,451.4 L415.9,451.6 L416.8,451.7 L417.7,451.9 L418.5,452.0 L419.4,452.2 L420.3,452.4 L421.2,452.5 L422.1,452.7 L423.0,452.8 L423.9,452.9 L424.8,453.1 L425.7,453.2 L426.6,453.4 L427.5,453.5 L428.4,453.7 L429.3,453.8 L430.1,454.0 L431.0,454.1 L431.9,454.2 L432.8,454.4 L433.7,454.5 L434.6,454.6 L435.5,454.8 L436.4,454.9 L437.3,455.0 L438.2,455.2 L439.1,455.3 L440.0,455.4 L440.8,455.6 L441.7,455.7 L442.6,455.8 L443.5,455.9 L444.4,456.1 L445.3,456.2 L446.2,456.3 L447.1,456.4 L448.0,456.5 L448.9,456.7 L449.8,456.8 L450.7,456.9 L451.6,457.0 L452.4,457.1 L453.3,457.2 L454.2,457.3 L455.1,457.4 L456.0,457.6 L456.9,457.7 L457.8,457.8 L458.7,457.9 L459.6,458.0 L460.5,458.1 L461.4,458.2 L462.3,458.3 L463.2,458.4 L464.0,458.5 L464.9,458.6 L465.8,458.7 L466.7,458.8 L467.6,458.9 L468.5,459.0 L469.4,459.1 L470.3,459.2 L471.2,459.2 L472.1,459.3 L473.0,459.4 L473.9,459.5 L474.8,459.6 L475.6,459.7 L476.5,459.8 L477.4,459.8 L478.3,459.9 L479.2,460.0 L480.1,460.1 L481.0,460.2" fill="none" stroke="#009999" stroke-width="3.9" stroke-linejoin="round"/><path d="M79.5,291.3 L85.0,285.9 L90.5,291.3 L85.0,296.8Z" fill="#0033cc"/><path d="M86.1,291.0 L91.6,285.6 L97.0,291.0 L91.6,296.4Z" fill="#0033cc"/><path d="M93.5,324.4 L98.9,318.9 L104.4,324.4 L98.9,329.8Z" fill="#0033cc"/><path d="M98.6,357.0 L104.1,351.6 L109.5,357.0 L104.1,362.4Z" fill="#0033cc"/><path d="M104.1,379.0 L109.6,373.6 L115.0,379.0 L109.6,384.4Z" fill="#0033cc"/><path d="M109.8,393.2 L115.3,387.8 L120.8,393.2 L115.3,398.6Z" fill="#0033cc"/><path d="M115.8,403.3 L121.2,397.9 L126.7,403.3 L121.2,408.8Z" fill="#0033cc"/><path d="M121.5,411.3 L127.0,405.9 L132.4,411.3 L127.0,416.8Z" fill="#0033cc"/><path d="M127.4,417.8 L132.8,412.4 L138.2,417.8 L132.8,423.2Z" fill="#0033cc"/><path d="M133.2,424.0 L138.6,418.6 L144.0,424.0 L138.6,429.4Z" fill="#0033cc"/><path d="M138.9,429.0 L144.3,423.6 L149.8,429.0 L144.3,434.4Z" fill="#0033cc"/><path d="M144.6,433.2 L150.0,427.8 L155.4,433.2 L150.0,438.6Z" fill="#0033cc"/><path d="M150.2,436.6 L155.7,431.2 L161.1,436.6 L155.7,442.1Z" fill="#0033cc"/><path d="M156.0,439.6 L161.4,434.2 L166.8,439.6 L161.4,445.1Z" fill="#0033cc"/><path d="M161.7,442.2 L167.1,436.8 L172.5,442.2 L167.1,447.6Z" fill="#0033cc"/><path d="M167.4,444.3 L172.8,438.9 L178.2,444.3 L172.8,449.8Z" fill="#0033cc"/><path d="M173.1,446.0 L178.5,440.6 L183.9,446.0 L178.5,451.4Z" fill="#0033cc"/><path d="M178.8,447.5 L184.2,442.1 L189.6,447.5 L184.2,452.9Z" fill="#0033cc"/><path d="M184.5,448.6 L189.9,443.2 L195.3,448.6 L189.9,454.1Z" fill="#0033cc"/><path d="M190.0,449.6 L195.4,444.2 L200.8,449.6 L195.4,455.1Z" fill="#0033cc"/><path d="M218.2,455.0 L223.6,449.6 L229.0,455.0 L223.6,460.4Z" fill="#0033cc"/><path d="M246.6,460.3 L252.0,454.9 L257.4,460.3 L252.0,465.8Z" fill="#0033cc"/><path d="M274.9,465.3 L280.3,459.9 L285.8,465.3 L280.3,470.8Z" fill="#0033cc"/><path d="M303.4,468.8 L308.8,463.4 L314.2,468.8 L308.8,474.2Z" fill="#0033cc"/><path d="M331.7,472.2 L337.1,466.8 L342.6,472.2 L337.1,477.6Z" fill="#0033cc"/><path d="M360.1,474.7 L365.5,469.2 L370.9,474.7 L365.5,480.1Z" fill="#0033cc"/><path d="M388.4,477.4 L393.9,471.9 L399.3,477.4 L393.9,482.8Z" fill="#0033cc"/><path d="M416.9,478.8 L422.3,473.4 L427.8,478.8 L422.3,484.2Z" fill="#0033cc"/><path d="M83.2,262.4 L83.5,265.7 L83.7,268.8 L84.0,271.4 L84.3,273.7 L84.5,275.8 L84.8,277.6 L85.0,279.2 L85.3,280.6 L85.6,281.9 L85.8,283.0 L86.1,284.1 L86.4,285.2 L86.6,286.2 L86.9,287.2 L87.1,288.3 L87.4,289.3 L87.7,290.2 L87.9,291.2 L88.2,292.2 L88.5,293.1 L88.7,294.0 L89.0,294.8 L89.2,295.7 L89.5,296.5 L89.8,297.3 L90.0,298.0 L90.3,298.7 L90.6,299.4 L90.8,300.1 L91.1,300.7 L91.3,301.3 L91.6,301.9 L91.9,302.4 L92.1,303.0 L92.4,303.5 L92.7,304.0 L92.9,304.5 L93.2,305.1 L93.5,305.6 L93.7,306.1 L94.0,306.6 L94.2,307.2 L94.5,307.7 L94.8,308.3 L95.0,308.9 L95.3,309.5 L95.6,310.1 L95.8,310.8 L96.1,311.5 L96.3,312.2 L96.6,313.0 L96.9,313.7 L97.1,314.5 L97.4,315.3 L97.7,316.2 L97.9,317.0 L98.2,317.8 L98.4,318.7 L98.7,319.5 L99.0,320.4 L99.2,321.2 L99.5,322.0 L99.8,322.9 L100.0,323.7 L100.3,324.5 L100.6,325.3 L100.8,326.1 L101.1,326.9 L101.3,327.7 L101.6,328.4 L101.9,329.2 L102.1,330.0 L102.4,330.8 L102.7,331.6 L102.9,332.4 L103.2,333.1 L103.4,333.9 L103.7,334.7 L104.0,335.5 L104.2,336.3 L104.5,337.1 L104.8,337.9 L105.0,338.7 L105.3,339.5 L105.5,340.4 L105.8,341.2 L106.1,342.0 L106.3,342.8 L106.6,343.6 L106.9,344.5 L107.1,345.3 L107.4,346.1 L107.6,346.9 L107.9,347.7 L108.2,348.6 L108.4,349.4 L108.7,350.2 L109.0,351.0 L109.2,351.9 L109.5,352.7 L109.8,353.5 L110.0,354.3 L110.3,355.1 L110.5,355.9 L110.8,356.7 L111.1,357.5 L111.3,358.3 L111.6,359.1 L111.9,359.9 L112.1,360.7 L112.4,361.4 L112.6,362.2 L112.9,363.0 L113.2,363.8 L113.4,364.5 L113.7,365.3 L114.0,366.0 L114.2,366.7 L114.5,367.5 L114.7,368.2 L115.0,368.9 L115.3,369.6 L115.5,370.3 L115.8,371.0 L116.1,371.7 L116.3,372.4 L116.6,373.0 L116.9,373.7 L117.1,374.3 L117.4,375.0 L117.6,375.6 L117.9,376.2 L118.2,376.9 L118.4,377.5 L118.7,378.1 L119.0,378.7 L119.2,379.3 L119.5,379.9 L119.7,380.4 L120.0,381.0 L120.3,381.6 L120.5,382.1 L120.8,382.7 L121.1,383.2 L121.3,383.8 L121.6,384.3 L121.8,384.8 L122.1,385.4 L122.4,385.9 L122.6,386.4 L122.9,386.9 L123.2,387.4 L123.4,387.9 L123.7,388.3 L123.9,388.8 L124.2,389.3 L124.5,389.8 L124.7,390.2 L125.0,390.7 L125.9,392.2 L126.8,393.6 L127.7,395.0 L128.6,396.4 L129.5,397.7 L130.4,398.9 L131.2,400.1 L132.1,401.3 L133.0,402.4 L133.9,403.5 L134.8,404.6 L135.7,405.6 L136.6,406.6 L137.5,407.6 L138.4,408.6 L139.3,409.5 L140.2,410.5 L141.1,411.4 L142.0,412.3 L142.8,413.2 L143.7,414.0 L144.6,414.9 L145.5,415.7 L146.4,416.5 L147.3,417.3 L148.2,418.1 L149.1,418.9 L150.0,419.6 L150.9,420.4 L151.8,421.1 L152.7,421.8 L153.6,422.5 L154.4,423.2 L155.3,423.9 L156.2,424.5 L157.1,425.2 L158.0,425.8 L158.9,426.4 L159.8,427.0 L160.7,427.6 L161.6,428.2 L162.5,428.8 L163.4,429.4 L164.3,429.9 L165.2,430.4 L166.0,431.0 L166.9,431.5 L167.8,432.0 L168.7,432.5 L169.6,433.0 L170.5,433.4 L171.4,433.9 L172.3,434.4 L173.2,434.8 L174.1,435.3 L175.0,435.7 L175.9,436.1 L176.7,436.5 L177.6,436.9 L178.5,437.3 L179.4,437.7 L180.3,438.1 L181.2,438.5 L182.1,438.8 L183.0,439.2 L183.9,439.6 L184.8,439.9 L185.7,440.3 L186.6,440.6 L187.5,440.9 L188.3,441.3 L189.2,441.6 L190.1,441.9 L191.0,442.2 L191.9,442.5 L192.8,442.8 L193.7,443.1 L194.6,443.4 L195.5,443.7 L196.4,444.0 L197.3,444.3 L198.2,444.6 L199.1,444.9 L199.9,445.1 L200.8,445.4 L201.7,445.7 L202.6,446.0 L203.5,446.3 L204.4,446.5 L205.3,446.8 L206.2,447.1 L207.1,447.3 L208.0,447.6 L208.9,447.9 L209.8,448.1 L210.7,448.4 L211.5,448.6 L212.4,448.9 L213.3,449.2 L214.2,449.4 L215.1,449.7 L216.0,449.9 L216.9,450.2 L217.8,450.4 L218.7,450.6 L219.6,450.9 L220.5,451.1 L221.4,451.4 L222.3,451.6 L223.1,451.8 L224.0,452.1 L224.9,452.3 L225.8,452.5 L226.7,452.8 L227.6,453.0 L228.5,453.2 L229.4,453.5 L230.3,453.7 L231.2,453.9 L232.1,454.1 L233.0,454.4 L233.9,454.6 L234.7,454.8 L235.6,455.0 L236.5,455.2 L237.4,455.4 L238.3,455.6 L239.2,455.9 L240.1,456.1 L241.0,456.3 L241.9,456.5 L242.8,456.7 L243.7,456.9 L244.6,457.1 L245.5,457.3 L246.3,457.5 L247.2,457.7 L248.1,457.9 L249.0,458.1 L249.9,458.3 L250.8,458.5 L251.7,458.7 L252.6,458.9 L253.5,459.0 L254.4,459.2 L255.3,459.4 L256.2,459.6 L257.1,459.8 L257.9,460.0 L258.8,460.2 L259.7,460.3 L260.6,460.5 L261.5,460.7 L262.4,460.9 L263.3,461.1 L264.2,461.2 L265.1,461.4 L266.0,461.6 L266.9,461.7 L267.8,461.9 L268.6,462.1 L269.5,462.3 L270.4,462.4 L271.3,462.6 L272.2,462.8 L273.1,462.9 L274.0,463.1 L274.9,463.3 L275.8,463.4 L276.7,463.6 L277.6,463.7 L278.5,463.9 L279.4,464.1 L280.2,464.2 L281.1,464.4 L282.0,464.5 L282.9,464.7 L283.8,464.8 L284.7,465.0 L285.6,465.1 L286.5,465.3 L287.4,465.4 L288.3,465.6 L289.2,465.7 L290.1,465.9 L291.0,466.0 L291.8,466.2 L292.7,466.3 L293.6,466.5 L294.5,466.6 L295.4,466.7 L296.3,466.9 L297.2,467.0 L298.1,467.2 L299.0,467.3 L299.9,467.4 L300.8,467.6 L301.7,467.7 L302.6,467.9 L303.4,468.0 L304.3,468.1 L305.2,468.3 L306.1,468.4 L307.0,468.5 L307.9,468.7 L308.8,468.8 L309.7,468.9 L310.6,469.0 L311.5,469.2 L312.4,469.3 L313.3,469.4 L314.2,469.6 L315.0,469.7 L315.9,469.8 L316.8,469.9 L317.7,470.1 L318.6,470.2 L319.5,470.3 L320.4,470.4 L321.3,470.5 L322.2,470.7 L323.1,470.8 L324.0,470.9 L324.9,471.0 L325.8,471.1 L326.6,471.3 L327.5,471.4 L328.4,471.5 L329.3,471.6 L330.2,471.7 L331.1,471.8 L332.0,472.0 L332.9,472.1 L333.8,472.2 L334.7,472.3 L335.6,472.4 L336.5,472.5 L337.4,472.6 L338.2,472.7 L339.1,472.8 L340.0,473.0 L340.9,473.1 L341.8,473.2 L342.7,473.3 L343.6,473.4 L344.5,473.5 L345.4,473.6 L346.3,473.7 L347.2,473.8 L348.1,473.9 L348.9,474.0 L349.8,474.1 L350.7,474.2 L351.6,474.3 L352.5,474.4 L353.4,474.5 L354.3,474.6 L355.2,474.7 L356.1,474.9 L357.0,475.0 L357.9,475.1 L358.8,475.2 L359.7,475.3 L360.5,475.4 L361.4,475.5 L362.3,475.6 L363.2,475.7 L364.1,475.7 L365.0,475.8 L365.9,475.9 L366.8,476.0 L367.7,476.1 L368.6,476.2 L369.5,476.3 L370.4,476.4 L371.3,476.5 L372.1,476.6 L373.0,476.7 L373.9,476.8 L374.8,476.9 L375.7,477.0 L376.6,477.1 L377.5,477.2 L378.4,477.3 L379.3,477.4 L380.2,477.5 L381.1,477.6 L382.0,477.7 L382.9,477.8 L383.7,477.9 L384.6,477.9 L385.5,478.0 L386.4,478.1 L387.3,478.2 L388.2,478.3 L389.1,478.4 L390.0,478.5 L390.9,478.6 L391.8,478.7 L392.7,478.8 L393.6,478.9 L394.5,479.0 L395.3,479.1 L396.2,479.1 L397.1,479.2 L398.0,479.3 L398.9,479.4 L399.8,479.5 L400.7,479.6 L401.6,479.7 L402.5,479.8 L403.4,479.9 L404.3,480.0 L405.2,480.1 L406.1,480.2 L406.9,480.2 L407.8,480.3 L408.7,480.4 L409.6,480.5 L410.5,480.6 L411.4,480.7 L412.3,480.8 L413.2,480.9 L414.1,481.0 L415.0,481.1 L415.9,481.2 L416.8,481.2 L417.7,481.3 L418.5,481.4 L419.4,481.5 L420.3,481.6 L421.2,481.7 L422.1,481.8 L423.0,481.9 L423.9,482.0 L424.8,482.1 L425.7,482.2 L426.6,482.3 L427.5,482.4 L428.4,482.4 L429.3,482.5 L430.1,482.6 L431.0,482.7 L431.9,482.8 L432.8,482.9 L433.7,483.0 L434.6,483.1 L435.5,483.2 L436.4,483.3 L437.3,483.4 L438.2,483.5 L439.1,483.6 L440.0,483.7 L440.8,483.8 L441.7,483.9 L442.6,484.0 L443.5,484.1 L444.4,484.2 L445.3,484.3 L446.2,484.4 L447.1,484.5 L448.0,484.6 L448.9,484.7 L449.8,484.8 L450.7,484.9 L451.6,485.0 L452.4,485.1 L453.3,485.2 L454.2,485.3 L455.1,485.4 L456.0,485.5 L456.9,485.6 L457.8,485.7 L458.7,485.8 L459.6,485.9 L460.5,486.0 L461.4,486.1 L462.3,486.2 L463.2,486.3 L464.0,486.4 L464.9,486.5 L465.8,486.6 L466.7,486.7 L467.6,486.8 L468.5,486.9 L469.4,487.0 L470.3,487.1 L471.2,487.2 L472.1,487.4 L473.0,487.5 L473.9,487.6 L474.8,487.7 L475.6,487.8 L476.5,487.9 L477.4,488.0 L478.3,488.1 L479.2,488.2 L480.1,488.4 L481.0,488.5" fill="none" stroke="#0033cc" stroke-width="3.9" stroke-linejoin="round"/><path d="M79.9,298.3 L90.1,298.3 L85.0,287.8Z" fill="#ff0000"/><path d="M86.1,297.7 L96.3,297.7 L91.2,287.2Z" fill="#ff0000"/><path d="M89.9,305.7 L100.1,305.7 L95.0,295.2Z" fill="#ff0000"/><path d="M95.1,314.3 L105.3,314.3 L100.2,303.8Z" fill="#ff0000"/><path d="M99.7,322.1 L109.9,322.1 L104.8,311.6Z" fill="#ff0000"/><path d="M105.0,327.7 L115.2,327.7 L110.1,317.2Z" fill="#ff0000"/><path d="M110.6,331.2 L120.8,331.2 L115.7,320.7Z" fill="#ff0000"/><path d="M116.2,336.2 L126.4,336.2 L121.3,325.7Z" fill="#ff0000"/><path d="M121.9,343.3 L132.1,343.3 L127.0,332.8Z" fill="#ff0000"/><path d="M127.6,349.9 L137.8,349.9 L132.7,339.4Z" fill="#ff0000"/><path d="M133.3,357.5 L143.5,357.5 L138.4,347.0Z" fill="#ff0000"/><path d="M139.0,364.3 L149.2,364.3 L144.1,353.8Z" fill="#ff0000"/><path d="M144.6,371.2 L154.8,371.2 L149.7,360.7Z" fill="#ff0000"/><path d="M150.3,377.2 L160.5,377.2 L155.4,366.7Z" fill="#ff0000"/><path d="M156.0,382.6 L166.2,382.6 L161.1,372.1Z" fill="#ff0000"/><path d="M161.7,387.8 L171.9,387.8 L166.8,377.3Z" fill="#ff0000"/><path d="M167.3,392.6 L177.5,392.6 L172.4,382.1Z" fill="#ff0000"/><path d="M173.0,396.8 L183.2,396.8 L178.1,386.3Z" fill="#ff0000"/><path d="M178.7,400.4 L188.9,400.4 L183.8,389.9Z" fill="#ff0000"/><path d="M184.4,403.6 L194.6,403.6 L189.5,393.1Z" fill="#ff0000"/><path d="M190.1,406.2 L200.3,406.2 L195.2,395.7Z" fill="#ff0000"/><path d="M218.5,418.8 L228.7,418.8 L223.6,408.3Z" fill="#ff0000"/><path d="M246.9,430.3 L257.1,430.3 L252.0,419.8Z" fill="#ff0000"/><path d="M275.2,437.3 L285.4,437.3 L280.3,426.8Z" fill="#ff0000"/><path d="M303.7,444.7 L313.9,444.7 L308.8,434.2Z" fill="#ff0000"/><path d="M332.0,452.3 L342.2,452.3 L337.1,441.8Z" fill="#ff0000"/><path d="M360.4,457.3 L370.6,457.3 L365.5,446.8Z" fill="#ff0000"/><path d="M388.8,461.7 L399.0,461.7 L393.9,451.2Z" fill="#ff0000"/><path d="M417.2,466.2 L427.4,466.2 L422.3,455.7Z" fill="#ff0000"/><path d="M83.2,262.1 L83.5,265.8 L83.7,268.9 L84.0,271.7 L84.3,274.2 L84.5,276.3 L84.8,278.1 L85.0,279.7 L85.3,281.1 L85.6,282.3 L85.8,283.5 L86.1,284.5 L86.4,285.5 L86.6,286.5 L86.9,287.5 L87.1,288.5 L87.4,289.5 L87.7,290.4 L87.9,291.4 L88.2,292.3 L88.5,293.2 L88.7,294.1 L89.0,295.0 L89.2,295.9 L89.5,296.7 L89.8,297.5 L90.0,298.3 L90.3,299.1 L90.6,299.9 L90.8,300.6 L91.1,301.3 L91.3,301.9 L91.6,302.6 L91.9,303.2 L92.1,303.8 L92.4,304.4 L92.7,305.0 L92.9,305.6 L93.2,306.1 L93.5,306.6 L93.7,307.2 L94.0,307.7 L94.2,308.1 L94.5,308.6 L94.8,309.1 L95.0,309.5 L95.3,310.0 L95.6,310.4 L95.8,310.8 L96.1,311.3 L96.3,311.7 L96.6,312.1 L96.9,312.5 L97.1,312.9 L97.4,313.3 L97.7,313.6 L97.9,314.0 L98.2,314.4 L98.4,314.8 L98.7,315.1 L99.0,315.5 L99.2,315.9 L99.5,316.2 L99.8,316.5 L100.0,316.9 L100.3,317.2 L100.6,317.6 L100.8,317.9 L101.1,318.2 L101.3,318.5 L101.6,318.8 L101.9,319.2 L102.1,319.5 L102.4,319.8 L102.7,320.1 L102.9,320.4 L103.2,320.6 L103.4,320.9 L103.7,321.2 L104.0,321.5 L104.2,321.8 L104.5,322.1 L104.8,322.3 L105.0,322.6 L105.3,322.9 L105.5,323.1 L105.8,323.4 L106.1,323.6 L106.3,323.9 L106.6,324.1 L106.9,324.4 L107.1,324.6 L107.4,324.9 L107.6,325.1 L107.9,325.3 L108.2,325.6 L108.4,325.8 L108.7,326.0 L109.0,326.2 L109.2,326.5 L109.5,326.7 L109.8,326.9 L110.0,327.1 L110.3,327.3 L110.5,327.6 L110.8,327.8 L111.1,328.0 L111.3,328.2 L111.6,328.4 L111.9,328.6 L112.1,328.8 L112.4,329.0 L112.6,329.2 L112.9,329.4 L113.2,329.6 L113.4,329.8 L113.7,330.0 L114.0,330.2 L114.2,330.4 L114.5,330.6 L114.7,330.8 L115.0,331.0 L115.3,331.2 L115.5,331.4 L115.8,331.6 L116.1,331.8 L116.3,332.0 L116.6,332.1 L116.9,332.3 L117.1,332.5 L117.4,332.7 L117.6,332.9 L117.9,333.1 L118.2,333.3 L118.4,333.4 L118.7,333.6 L119.0,333.8 L119.2,334.0 L119.5,334.2 L119.7,334.4 L120.0,334.5 L120.3,334.7 L120.5,334.9 L120.8,335.1 L121.1,335.3 L121.3,335.4 L121.6,335.6 L121.8,335.8 L122.1,336.0 L122.4,336.2 L122.6,336.3 L122.9,336.5 L123.2,336.7 L123.4,336.9 L123.7,337.0 L123.9,337.2 L124.2,337.4 L124.5,337.6 L124.7,337.8 L125.0,337.9 L125.9,338.5 L126.8,339.2 L127.7,339.8 L128.6,340.4 L129.5,341.0 L130.4,341.6 L131.2,342.2 L132.1,342.9 L133.0,343.5 L133.9,344.2 L134.8,344.9 L135.7,345.5 L136.6,346.2 L137.5,346.9 L138.4,347.7 L139.3,348.4 L140.2,349.2 L141.1,349.9 L142.0,350.7 L142.8,351.5 L143.7,352.3 L144.6,353.2 L145.5,354.0 L146.4,354.9 L147.3,355.7 L148.2,356.6 L149.1,357.5 L150.0,358.3 L150.9,359.2 L151.8,360.1 L152.7,361.0 L153.6,361.9 L154.4,362.8 L155.3,363.7 L156.2,364.5 L157.1,365.4 L158.0,366.3 L158.9,367.1 L159.8,368.0 L160.7,368.9 L161.6,369.7 L162.5,370.5 L163.4,371.3 L164.3,372.1 L165.2,372.9 L166.0,373.7 L166.9,374.4 L167.8,375.2 L168.7,375.9 L169.6,376.7 L170.5,377.4 L171.4,378.1 L172.3,378.8 L173.2,379.4 L174.1,380.1 L175.0,380.8 L175.9,381.4 L176.7,382.1 L177.6,382.7 L178.5,383.4 L179.4,384.0 L180.3,384.6 L181.2,385.2 L182.1,385.8 L183.0,386.4 L183.9,387.0 L184.8,387.6 L185.7,388.2 L186.6,388.8 L187.5,389.4 L188.3,390.0 L189.2,390.6 L190.1,391.1 L191.0,391.7 L191.9,392.3 L192.8,392.8 L193.7,393.4 L194.6,394.0 L195.5,394.5 L196.4,395.1 L197.3,395.6 L198.2,396.2 L199.1,396.7 L199.9,397.3 L200.8,397.8 L201.7,398.4 L202.6,398.9 L203.5,399.4 L204.4,400.0 L205.3,400.5 L206.2,401.0 L207.1,401.5 L208.0,402.0 L208.9,402.5 L209.8,403.0 L210.7,403.5 L211.5,404.0 L212.4,404.5 L213.3,405.0 L214.2,405.5 L215.1,406.0 L216.0,406.5 L216.9,406.9 L217.8,407.4 L218.7,407.9 L219.6,408.3 L220.5,408.8 L221.4,409.2 L222.3,409.7 L223.1,410.2 L224.0,410.6 L224.9,411.0 L225.8,411.5 L226.7,411.9 L227.6,412.4 L228.5,412.8 L229.4,413.2 L230.3,413.6 L231.2,414.1 L232.1,414.5 L233.0,414.9 L233.9,415.3 L234.7,415.7 L235.6,416.1 L236.5,416.5 L237.4,416.9 L238.3,417.3 L239.2,417.7 L240.1,418.1 L241.0,418.5 L241.9,418.9 L242.8,419.3 L243.7,419.7 L244.6,420.0 L245.5,420.4 L246.3,420.8 L247.2,421.2 L248.1,421.5 L249.0,421.9 L249.9,422.3 L250.8,422.6 L251.7,423.0 L252.6,423.3 L253.5,423.7 L254.4,424.0 L255.3,424.4 L256.2,424.7 L257.1,425.1 L257.9,425.4 L258.8,425.8 L259.7,426.1 L260.6,426.5 L261.5,426.8 L262.4,427.1 L263.3,427.5 L264.2,427.8 L265.1,428.1 L266.0,428.4 L266.9,428.8 L267.8,429.1 L268.6,429.4 L269.5,429.7 L270.4,430.1 L271.3,430.4 L272.2,430.7 L273.1,431.0 L274.0,431.3 L274.9,431.6 L275.8,431.9 L276.7,432.2 L277.6,432.5 L278.5,432.8 L279.4,433.2 L280.2,433.5 L281.1,433.8 L282.0,434.1 L282.9,434.4 L283.8,434.6 L284.7,434.9 L285.6,435.2 L286.5,435.5 L287.4,435.8 L288.3,436.1 L289.2,436.4 L290.1,436.7 L291.0,437.0 L291.8,437.3 L292.7,437.5 L293.6,437.8 L294.5,438.1 L295.4,438.4 L296.3,438.7 L297.2,438.9 L298.1,439.2 L299.0,439.5 L299.9,439.8 L300.8,440.0 L301.7,440.3 L302.6,440.6 L303.4,440.9 L304.3,441.1 L305.2,441.4 L306.1,441.7 L307.0,441.9 L307.9,442.2 L308.8,442.4 L309.7,442.7 L310.6,443.0 L311.5,443.2 L312.4,443.5 L313.3,443.7 L314.2,444.0 L315.0,444.2 L315.9,444.5 L316.8,444.7 L317.7,445.0 L318.6,445.2 L319.5,445.5 L320.4,445.7 L321.3,446.0 L322.2,446.2 L323.1,446.5 L324.0,446.7 L324.9,447.0 L325.8,447.2 L326.6,447.4 L327.5,447.7 L328.4,447.9 L329.3,448.1 L330.2,448.4 L331.1,448.6 L332.0,448.8 L332.9,449.1 L333.8,449.3 L334.7,449.5 L335.6,449.8 L336.5,450.0 L337.4,450.2 L338.2,450.4 L339.1,450.7 L340.0,450.9 L340.9,451.1 L341.8,451.3 L342.7,451.5 L343.6,451.8 L344.5,452.0 L345.4,452.2 L346.3,452.4 L347.2,452.6 L348.1,452.8 L348.9,453.1 L349.8,453.3 L350.7,453.5 L351.6,453.7 L352.5,453.9 L353.4,454.1 L354.3,454.3 L355.2,454.5 L356.1,454.7 L357.0,454.9 L357.9,455.1 L358.8,455.3 L359.7,455.5 L360.5,455.7 L361.4,455.9 L362.3,456.1 L363.2,456.3 L364.1,456.5 L365.0,456.7 L365.9,456.9 L366.8,457.1 L367.7,457.3 L368.6,457.5 L369.5,457.7 L370.4,457.9 L371.3,458.1 L372.1,458.2 L373.0,458.4 L373.9,458.6 L374.8,458.8 L375.7,459.0 L376.6,459.2 L377.5,459.4 L378.4,459.5 L379.3,459.7 L380.2,459.9 L381.1,460.1 L382.0,460.3 L382.9,460.4 L383.7,460.6 L384.6,460.8 L385.5,461.0 L386.4,461.1 L387.3,461.3 L388.2,461.5 L389.1,461.7 L390.0,461.8 L390.9,462.0 L391.8,462.2 L392.7,462.4 L393.6,462.5 L394.5,462.7 L395.3,462.9 L396.2,463.0 L397.1,463.2 L398.0,463.4 L398.9,463.5 L399.8,463.7 L400.7,463.8 L401.6,464.0 L402.5,464.2 L403.4,464.3 L404.3,464.5 L405.2,464.6 L406.1,464.8 L406.9,465.0 L407.8,465.1 L408.7,465.3 L409.6,465.4 L410.5,465.6 L411.4,465.7 L412.3,465.9 L413.2,466.0 L414.1,466.2 L415.0,466.4 L415.9,466.5 L416.8,466.7 L417.7,466.8 L418.5,467.0 L419.4,467.1 L420.3,467.3 L421.2,467.4 L422.1,467.5 L423.0,467.7 L423.9,467.8 L424.8,468.0 L425.7,468.1 L426.6,468.3 L427.5,468.4 L428.4,468.6 L429.3,468.7 L430.1,468.8 L431.0,469.0 L431.9,469.1 L432.8,469.3 L433.7,469.4 L434.6,469.5 L435.5,469.7 L436.4,469.8 L437.3,470.0 L438.2,470.1 L439.1,470.2 L440.0,470.4 L440.8,470.5 L441.7,470.6 L442.6,470.8 L443.5,470.9 L444.4,471.0 L445.3,471.2 L446.2,471.3 L447.1,471.4 L448.0,471.6 L448.9,471.7 L449.8,471.8 L450.7,471.9 L451.6,472.1 L452.4,472.2 L453.3,472.3 L454.2,472.5 L455.1,472.6 L456.0,472.7 L456.9,472.8 L457.8,473.0 L458.7,473.1 L459.6,473.2 L460.5,473.3 L461.4,473.5 L462.3,473.6 L463.2,473.7 L464.0,473.8 L464.9,474.0 L465.8,474.1 L466.7,474.2 L467.6,474.3 L468.5,474.4 L469.4,474.6 L470.3,474.7 L471.2,474.8 L472.1,474.9 L473.0,475.0 L473.9,475.2 L474.8,475.3 L475.6,475.4 L476.5,475.5 L477.4,475.6 L478.3,475.7 L479.2,475.9 L480.1,476.0 L481.0,476.1" fill="none" stroke="#ff0000" stroke-width="3.9" stroke-linejoin="round"/><circle cx="85.0" cy="291.3" r="4.9" fill="none" stroke="#000" stroke-width="0.7"/><circle cx="91.2" cy="290.7" r="4.9" fill="none" stroke="#000" stroke-width="0.7"/><circle cx="95.0" cy="298.8" r="4.9" fill="none" stroke="#000" stroke-width="0.7"/><circle cx="100.2" cy="307.5" r="4.9" fill="none" stroke="#000" stroke-width="0.7"/><circle cx="104.8" cy="315.6" r="4.9" fill="none" stroke="#000" stroke-width="0.7"/><circle cx="110.1" cy="321.4" r="4.9" fill="none" stroke="#000" stroke-width="0.7"/><circle cx="115.7" cy="326.7" r="4.9" fill="none" stroke="#000" stroke-width="0.7"/><circle cx="121.3" cy="330.2" r="4.9" fill="none" stroke="#000" stroke-width="0.7"/><circle cx="127.0" cy="333.4" r="4.9" fill="none" stroke="#000" stroke-width="0.7"/><circle cx="132.7" cy="336.6" r="4.9" fill="none" stroke="#000" stroke-width="0.7"/><circle cx="138.4" cy="339.9" r="4.9" fill="none" stroke="#000" stroke-width="0.7"/><circle cx="144.1" cy="343.0" r="4.9" fill="none" stroke="#000" stroke-width="0.7"/><circle cx="149.7" cy="345.6" r="4.9" fill="none" stroke="#000" stroke-width="0.7"/><circle cx="155.4" cy="348.2" r="4.9" fill="none" stroke="#000" stroke-width="0.7"/><circle cx="161.1" cy="350.6" r="4.9" fill="none" stroke="#000" stroke-width="0.7"/><circle cx="166.8" cy="353.1" r="4.9" fill="none" stroke="#000" stroke-width="0.7"/><circle cx="172.4" cy="355.8" r="4.9" fill="none" stroke="#000" stroke-width="0.7"/><circle cx="178.1" cy="359.0" r="4.9" fill="none" stroke="#000" stroke-width="0.7"/><circle cx="183.8" cy="362.8" r="4.9" fill="none" stroke="#000" stroke-width="0.7"/><circle cx="189.5" cy="366.7" r="4.9" fill="none" stroke="#000" stroke-width="0.7"/><circle cx="195.2" cy="370.0" r="4.9" fill="none" stroke="#000" stroke-width="0.7"/><circle cx="223.6" cy="386.2" r="4.9" fill="none" stroke="#000" stroke-width="0.7"/><circle cx="252.0" cy="398.8" r="4.9" fill="none" stroke="#000" stroke-width="0.7"/><circle cx="280.3" cy="409.0" r="4.9" fill="none" stroke="#000" stroke-width="0.7"/><circle cx="308.8" cy="417.0" r="4.9" fill="none" stroke="#000" stroke-width="0.7"/><circle cx="337.1" cy="424.2" r="4.9" fill="none" stroke="#000" stroke-width="0.7"/><circle cx="365.5" cy="431.0" r="4.9" fill="none" stroke="#000" stroke-width="0.7"/><circle cx="393.9" cy="435.4" r="4.9" fill="none" stroke="#000" stroke-width="0.7"/><circle cx="422.3" cy="440.2" r="4.9" fill="none" stroke="#000" stroke-width="0.7"/><path d="M83.2,262.3 L83.5,265.8 L83.7,268.8 L84.0,271.5 L84.3,273.9 L84.5,276.0 L84.8,277.8 L85.0,279.3 L85.3,280.7 L85.6,282.0 L85.8,283.1 L86.1,284.2 L86.4,285.2 L86.6,286.2 L86.9,287.1 L87.1,288.1 L87.4,289.1 L87.7,290.0 L87.9,291.0 L88.2,291.9 L88.5,292.8 L88.7,293.7 L89.0,294.5 L89.2,295.4 L89.5,296.2 L89.8,297.0 L90.0,297.8 L90.3,298.5 L90.6,299.2 L90.8,299.9 L91.1,300.6 L91.3,301.3 L91.6,301.9 L91.9,302.5 L92.1,303.1 L92.4,303.7 L92.7,304.3 L92.9,304.8 L93.2,305.4 L93.5,305.9 L93.7,306.4 L94.0,306.9 L94.2,307.4 L94.5,307.8 L94.8,308.3 L95.0,308.7 L95.3,309.2 L95.6,309.6 L95.8,310.0 L96.1,310.4 L96.3,310.8 L96.6,311.2 L96.9,311.6 L97.1,312.0 L97.4,312.4 L97.7,312.7 L97.9,313.1 L98.2,313.5 L98.4,313.8 L98.7,314.2 L99.0,314.5 L99.2,314.9 L99.5,315.2 L99.8,315.5 L100.0,315.8 L100.3,316.2 L100.6,316.5 L100.8,316.8 L101.1,317.1 L101.3,317.4 L101.6,317.7 L101.9,318.0 L102.1,318.2 L102.4,318.5 L102.7,318.8 L102.9,319.1 L103.2,319.3 L103.4,319.6 L103.7,319.9 L104.0,320.1 L104.2,320.4 L104.5,320.6 L104.8,320.9 L105.0,321.1 L105.3,321.4 L105.5,321.6 L105.8,321.8 L106.1,322.1 L106.3,322.3 L106.6,322.5 L106.9,322.7 L107.1,323.0 L107.4,323.2 L107.6,323.4 L107.9,323.6 L108.2,323.8 L108.4,324.0 L108.7,324.2 L109.0,324.4 L109.2,324.7 L109.5,324.9 L109.8,325.1 L110.0,325.3 L110.3,325.5 L110.5,325.7 L110.8,325.8 L111.1,326.0 L111.3,326.2 L111.6,326.4 L111.9,326.6 L112.1,326.8 L112.4,327.0 L112.6,327.2 L112.9,327.3 L113.2,327.5 L113.4,327.7 L113.7,327.9 L114.0,328.1 L114.2,328.2 L114.5,328.4 L114.7,328.6 L115.0,328.7 L115.3,328.9 L115.5,329.1 L115.8,329.3 L116.1,329.4 L116.3,329.6 L116.6,329.7 L116.9,329.9 L117.1,330.1 L117.4,330.2 L117.6,330.4 L117.9,330.5 L118.2,330.7 L118.4,330.8 L118.7,331.0 L119.0,331.1 L119.2,331.3 L119.5,331.4 L119.7,331.6 L120.0,331.7 L120.3,331.9 L120.5,332.0 L120.8,332.2 L121.1,332.3 L121.3,332.4 L121.6,332.6 L121.8,332.7 L122.1,332.8 L122.4,333.0 L122.6,333.1 L122.9,333.2 L123.2,333.4 L123.4,333.5 L123.7,333.6 L123.9,333.8 L124.2,333.9 L124.5,334.0 L124.7,334.2 L125.0,334.3 L125.9,334.7 L126.8,335.1 L127.7,335.5 L128.6,335.9 L129.5,336.3 L130.4,336.7 L131.2,337.1 L132.1,337.4 L133.0,337.8 L133.9,338.1 L134.8,338.5 L135.7,338.8 L136.6,339.2 L137.5,339.5 L138.4,339.9 L139.3,340.2 L140.2,340.5 L141.1,340.9 L142.0,341.2 L142.8,341.6 L143.7,341.9 L144.6,342.2 L145.5,342.6 L146.4,342.9 L147.3,343.2 L148.2,343.5 L149.1,343.9 L150.0,344.2 L150.9,344.5 L151.8,344.9 L152.7,345.2 L153.6,345.5 L154.4,345.9 L155.3,346.2 L156.2,346.5 L157.1,346.9 L158.0,347.2 L158.9,347.5 L159.8,347.9 L160.7,348.2 L161.6,348.6 L162.5,348.9 L163.4,349.3 L164.3,349.6 L165.2,350.0 L166.0,350.3 L166.9,350.7 L167.8,351.1 L168.7,351.4 L169.6,351.8 L170.5,352.2 L171.4,352.5 L172.3,352.9 L173.2,353.3 L174.1,353.7 L175.0,354.1 L175.9,354.5 L176.7,354.9 L177.6,355.3 L178.5,355.7 L179.4,356.1 L180.3,356.6 L181.2,357.0 L182.1,357.4 L183.0,357.9 L183.9,358.3 L184.8,358.8 L185.7,359.2 L186.6,359.7 L187.5,360.2 L188.3,360.6 L189.2,361.1 L190.1,361.6 L191.0,362.1 L191.9,362.6 L192.8,363.1 L193.7,363.6 L194.6,364.1 L195.5,364.6 L196.4,365.1 L197.3,365.6 L198.2,366.2 L199.1,366.7 L199.9,367.2 L200.8,367.7 L201.7,368.3 L202.6,368.8 L203.5,369.4 L204.4,369.9 L205.3,370.5 L206.2,371.0 L207.1,371.5 L208.0,372.1 L208.9,372.7 L209.8,373.2 L210.7,373.8 L211.5,374.3 L212.4,374.9 L213.3,375.4 L214.2,376.0 L215.1,376.5 L216.0,377.1 L216.9,377.7 L217.8,378.2 L218.7,378.8 L219.6,379.3 L220.5,379.9 L221.4,380.4 L222.3,381.0 L223.1,381.6 L224.0,382.1 L224.9,382.7 L225.8,383.2 L226.7,383.8 L227.6,384.3 L228.5,384.8 L229.4,385.4 L230.3,385.9 L231.2,386.5 L232.1,387.0 L233.0,387.5 L233.9,388.1 L234.7,388.6 L235.6,389.1 L236.5,389.6 L237.4,390.1 L238.3,390.6 L239.2,391.1 L240.1,391.6 L241.0,392.1 L241.9,392.6 L242.8,393.1 L243.7,393.6 L244.6,394.1 L245.5,394.5 L246.3,395.0 L247.2,395.5 L248.1,395.9 L249.0,396.4 L249.9,396.8 L250.8,397.2 L251.7,397.7 L252.6,398.1 L253.5,398.5 L254.4,398.9 L255.3,399.3 L256.2,399.7 L257.1,400.1 L257.9,400.5 L258.8,400.9 L259.7,401.3 L260.6,401.6 L261.5,402.0 L262.4,402.4 L263.3,402.7 L264.2,403.1 L265.1,403.4 L266.0,403.8 L266.9,404.1 L267.8,404.5 L268.6,404.8 L269.5,405.1 L270.4,405.5 L271.3,405.8 L272.2,406.1 L273.1,406.4 L274.0,406.7 L274.9,407.0 L275.8,407.3 L276.7,407.6 L277.6,407.9 L278.5,408.2 L279.4,408.5 L280.2,408.8 L281.1,409.1 L282.0,409.4 L282.9,409.7 L283.8,409.9 L284.7,410.2 L285.6,410.5 L286.5,410.8 L287.4,411.0 L288.3,411.3 L289.2,411.6 L290.1,411.8 L291.0,412.1 L291.8,412.3 L292.7,412.6 L293.6,412.9 L294.5,413.1 L295.4,413.4 L296.3,413.6 L297.2,413.9 L298.1,414.1 L299.0,414.4 L299.9,414.6 L300.8,414.9 L301.7,415.1 L302.6,415.4 L303.4,415.6 L304.3,415.8 L305.2,416.1 L306.1,416.3 L307.0,416.6 L307.9,416.8 L308.8,417.1 L309.7,417.3 L310.6,417.6 L311.5,417.8 L312.4,418.1 L313.3,418.3 L314.2,418.5 L315.0,418.8 L315.9,419.0 L316.8,419.3 L317.7,419.5 L318.6,419.8 L319.5,420.0 L320.4,420.3 L321.3,420.5 L322.2,420.8 L323.1,421.0 L324.0,421.2 L324.9,421.5 L325.8,421.7 L326.6,422.0 L327.5,422.2 L328.4,422.5 L329.3,422.7 L330.2,423.0 L331.1,423.2 L332.0,423.4 L332.9,423.7 L333.8,423.9 L334.7,424.2 L335.6,424.4 L336.5,424.7 L337.4,424.9 L338.2,425.1 L339.1,425.4 L340.0,425.6 L340.9,425.9 L341.8,426.1 L342.7,426.3 L343.6,426.6 L344.5,426.8 L345.4,427.1 L346.3,427.3 L347.2,427.5 L348.1,427.8 L348.9,428.0 L349.8,428.2 L350.7,428.5 L351.6,428.7 L352.5,428.9 L353.4,429.2 L354.3,429.4 L355.2,429.6 L356.1,429.9 L357.0,430.1 L357.9,430.3 L358.8,430.6 L359.7,430.8 L360.5,431.0 L361.4,431.3 L362.3,431.5 L363.2,431.7 L364.1,431.9 L365.0,432.2 L365.9,432.4 L366.8,432.6 L367.7,432.8 L368.6,433.1 L369.5,433.3 L370.4,433.5 L371.3,433.7 L372.1,434.0 L373.0,434.2 L373.9,434.4 L374.8,434.6 L375.7,434.8 L376.6,435.0 L377.5,435.3 L378.4,435.5 L379.3,435.7 L380.2,435.9 L381.1,436.1 L382.0,436.3 L382.9,436.5 L383.7,436.7 L384.6,437.0 L385.5,437.2 L386.4,437.4 L387.3,437.6 L388.2,437.8 L389.1,438.0 L390.0,438.2 L390.9,438.4 L391.8,438.6 L392.7,438.8 L393.6,439.0 L394.5,439.2 L395.3,439.4 L396.2,439.6 L397.1,439.8 L398.0,440.0 L398.9,440.2 L399.8,440.3 L400.7,440.5 L401.6,440.7 L402.5,440.9 L403.4,441.1 L404.3,441.3 L405.2,441.5 L406.1,441.7 L406.9,441.8 L407.8,442.0 L408.7,442.2 L409.6,442.4 L410.5,442.5 L411.4,442.7 L412.3,442.9 L413.2,443.1 L414.1,443.2 L415.0,443.4 L415.9,443.6 L416.8,443.8 L417.7,443.9 L418.5,444.1 L419.4,444.2 L420.3,444.4 L421.2,444.6 L422.1,444.7 L423.0,444.9 L423.9,445.0 L424.8,445.2 L425.7,445.3 L426.6,445.5 L427.5,445.7 L428.4,445.8 L429.3,445.9 L430.1,446.1 L431.0,446.2 L431.9,446.4 L432.8,446.5 L433.7,446.7 L434.6,446.8 L435.5,446.9 L436.4,447.1 L437.3,447.2 L438.2,447.3 L439.1,447.5 L440.0,447.6 L440.8,447.7 L441.7,447.8 L442.6,448.0 L443.5,448.1 L444.4,448.2 L445.3,448.3 L446.2,448.4 L447.1,448.6 L448.0,448.7 L448.9,448.8 L449.8,448.9 L450.7,449.0 L451.6,449.1 L452.4,449.2 L453.3,449.3 L454.2,449.4 L455.1,449.5 L456.0,449.6 L456.9,449.7 L457.8,449.8 L458.7,449.9 L459.6,450.0 L460.5,450.1 L461.4,450.1 L462.3,450.2 L463.2,450.3 L464.0,450.4 L464.9,450.5 L465.8,450.5 L466.7,450.6 L467.6,450.7 L468.5,450.7 L469.4,450.8 L470.3,450.9 L471.2,450.9 L472.1,451.0 L473.0,451.1 L473.9,451.1 L474.8,451.2 L475.6,451.2 L476.5,451.3 L477.4,451.3 L478.3,451.4 L479.2,451.4 L480.1,451.5 L481.0,451.5" fill="none" stroke="#000" stroke-width="3.9" stroke-linejoin="round"/></g><text x="72.6" y="46.0" text-anchor="end" font-family="Liberation Sans, sans-serif" font-weight="bold" font-size="17.3">10<tspan dy="-10.2" font-size="12.2">7</tspan></text><text x="72.6" y="101.3" text-anchor="end" font-family="Liberation Sans, sans-serif" font-weight="bold" font-size="17.3">10<tspan dy="-10.2" font-size="12.2">6</tspan></text><text x="72.6" y="156.5" text-anchor="end" font-family="Liberation Sans, sans-serif" font-weight="bold" font-size="17.3">10<tspan dy="-10.2" font-size="12.2">5</tspan></text><text x="72.6" y="211.8" text-anchor="end" font-family="Liberation Sans, sans-serif" font-weight="bold" font-size="17.3">10<tspan dy="-10.2" font-size="12.2">4</tspan></text><text x="72.6" y="267.0" text-anchor="end" font-family="Liberation Sans, sans-serif" font-weight="bold" font-size="17.3">10<tspan dy="-10.2" font-size="12.2">3</tspan></text><text x="72.6" y="334.3" text-anchor="end" font-family="Liberation Sans, sans-serif" font-weight="bold" font-size="17.3">10<tspan dy="-10.2" font-size="12.2">6</tspan></text><text x="72.6" y="385.2" text-anchor="end" font-family="Liberation Sans, sans-serif" font-weight="bold" font-size="17.3">10<tspan dy="-10.2" font-size="12.2">5</tspan></text><text x="72.6" y="436.0" text-anchor="end" font-family="Liberation Sans, sans-serif" font-weight="bold" font-size="17.3">10<tspan dy="-10.2" font-size="12.2">4</tspan></text><text x="72.6" y="486.9" text-anchor="end" font-family="Liberation Sans, sans-serif" font-weight="bold" font-size="17.3">10<tspan dy="-10.2" font-size="12.2">3</tspan></text><text x="72.6" y="537.8" text-anchor="end" font-family="Liberation Sans, sans-serif" font-weight="bold" font-size="17.3">10<tspan dy="-10.2" font-size="12.2">2</tspan></text><text x="81.8" y="552.9" text-anchor="middle" font-family="Liberation Sans, sans-serif" font-weight="bold" font-size="16.8">0</text><text x="138.6" y="552.9" text-anchor="middle" font-family="Liberation Sans, sans-serif" font-weight="bold" font-size="16.8">100</text><text x="195.4" y="552.9" text-anchor="middle" font-family="Liberation Sans, sans-serif" font-weight="bold" font-size="16.8">200</text><text x="252.1" y="552.9" text-anchor="middle" font-family="Liberation Sans, sans-serif" font-weight="bold" font-size="16.8">300</text><text x="308.9" y="552.9" text-anchor="middle" font-family="Liberation Sans, sans-serif" font-weight="bold" font-size="16.8">400</text><text x="365.7" y="552.9" text-anchor="middle" font-family="Liberation Sans, sans-serif" font-weight="bold" font-size="16.8">500</text><text x="422.5" y="552.9" text-anchor="middle" font-family="Liberation Sans, sans-serif" font-weight="bold" font-size="16.8">600</text><text x="208.8" y="587.3" font-family="Liberation Sans, sans-serif" font-weight="bold" font-size="27.5" xml:space="preserve">T  (K)</text><text x="382.8" y="58" font-family="Liberation Sans, sans-serif" font-size="24.4">(a)</text><text x="377.4" y="315.6" font-family="Liberation Sans, sans-serif" font-size="24.4">(b)</text><text x="210.4" y="74.8" font-family="Liberation Sans, sans-serif" font-size="20.2" fill="#0a9a0a">intrinsic</text><text x="238.6" y="350" font-family="Liberation Sans, sans-serif" font-size="20.2" fill="#0a9a0a">intrinsic</text><text x="168.6" y="259.3" font-family="Liberation Sans, sans-serif" font-size="20.1" fill="#0033cc">on HfO<tspan dy="6.5" font-size="13.6">2</tspan></text><text x="236.6" y="506.8" font-family="Liberation Sans, sans-serif" font-size="20.1" fill="#0033cc">on HfO<tspan dy="6.5" font-size="13.6">2</tspan></text><g fill="none" stroke="#000" stroke-width="2.15" stroke-linecap="round"><path d="M23.2,342.7 L40.6,342.7"/><path d="M23.4,334.5 L34.4,334.5 Q38.1,334.7 38.1,338.5 Q38.1,342.1 34.6,342.5"/><path d="M34.6,334.4 Q37.3,333.4 36.4,330.8" stroke-width="1.5"/><circle cx="40.9" cy="343.1" r="0.7" fill="#000"/></g><text transform="translate(36.2,314.8) rotate(-90)" font-family="Liberation Sans, sans-serif" font-size="28" font-weight="bold">(cm<tspan font-size="19.6" dy="-16.8">2</tspan><tspan dy="16.8">/Vs)</tspan></text></svg>
</body></html>
